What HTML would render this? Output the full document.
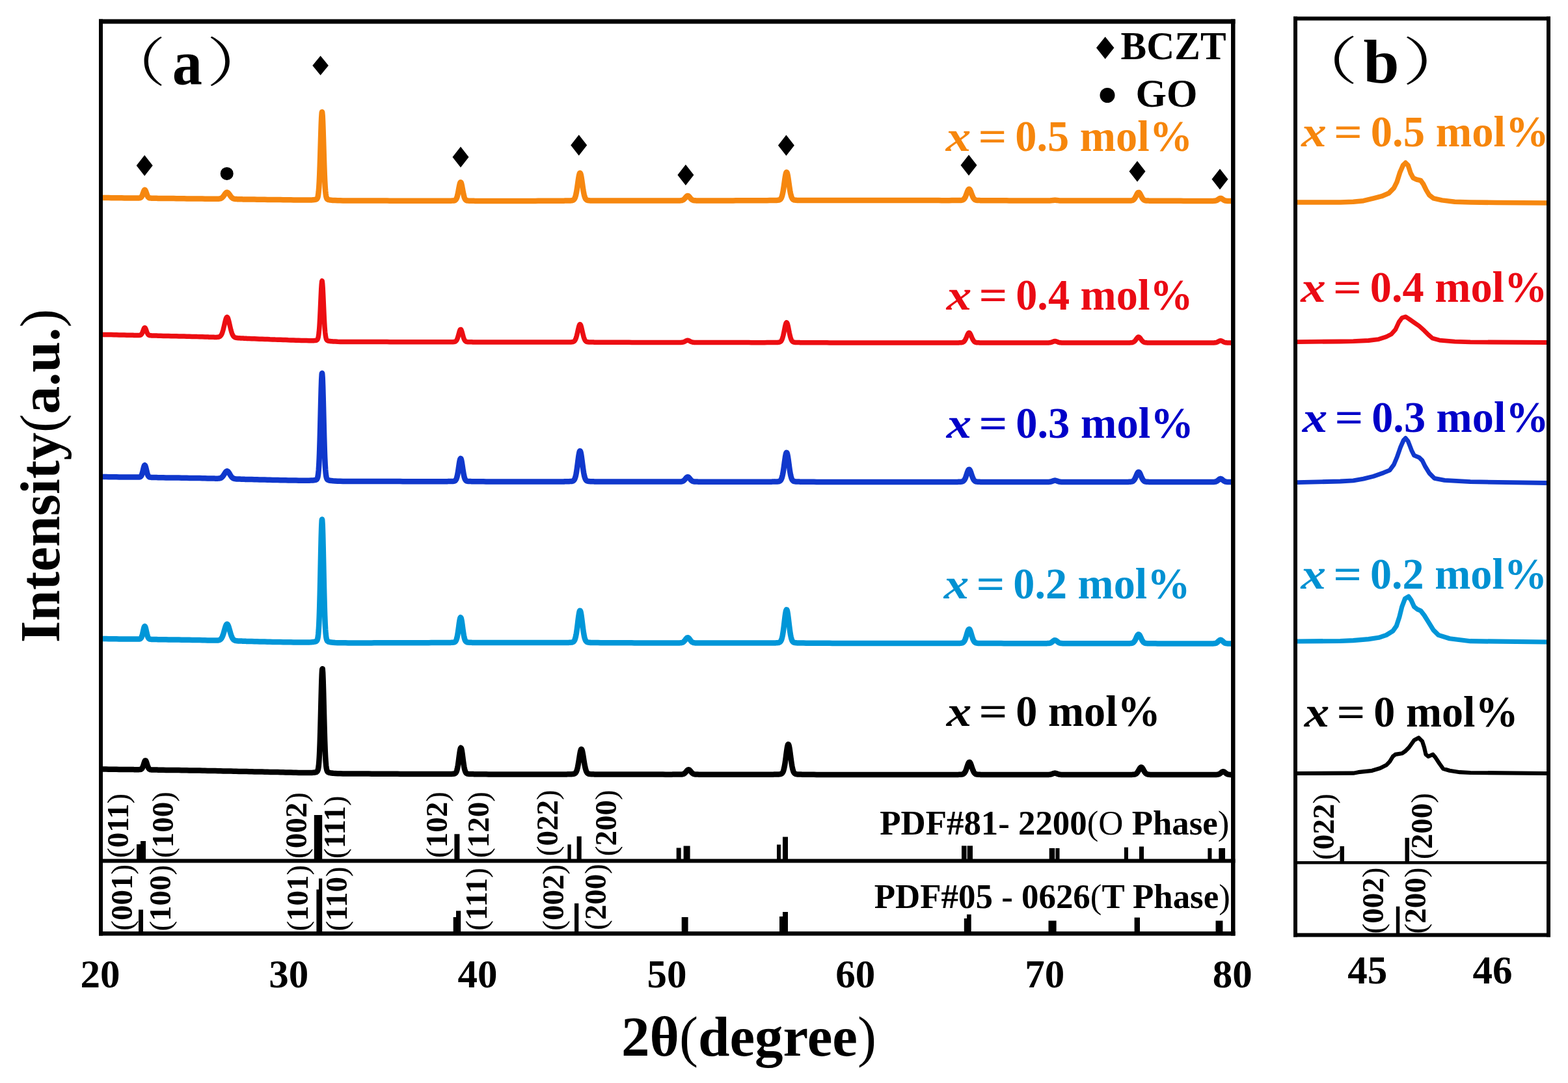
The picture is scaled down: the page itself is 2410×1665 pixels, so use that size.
<!DOCTYPE html>
<html><head><meta charset="utf-8"><title>XRD patterns</title>
<style>html,body{margin:0;padding:0;background:#fff;}svg{display:block;filter:blur(0.5px);}</style></head>
<body>
<svg width="2410" height="1665" viewBox="0 0 2410 1665">
<rect width="2410" height="1665" fill="#fff"/>
<path d="M155.0,304.0 159.0,304.0 163.0,304.1 167.0,304.1 171.0,304.2 175.0,304.2 179.0,304.2 183.0,304.3 187.0,304.3 191.0,304.4 195.0,304.4 199.0,304.4 203.0,304.5 204.5,304.5 205.0,304.5 205.5,304.5 206.0,304.5 206.5,304.5 207.0,304.5 207.5,304.5 208.0,304.5 208.5,304.5 209.0,304.5 209.5,304.5 210.0,304.5 210.5,304.5 211.0,304.5 211.5,304.5 212.0,304.5 212.5,304.5 213.0,304.4 213.5,304.4 214.0,304.4 214.5,304.3 215.0,304.3 215.5,304.1 216.0,303.9 216.5,303.6 217.0,303.2 217.5,302.6 218.0,301.8 218.5,300.8 219.0,299.6 219.5,298.3 220.0,296.8 220.5,295.4 221.0,294.0 221.5,292.9 222.0,292.2 222.5,291.9 223.0,292.2 223.5,292.9 224.0,294.1 224.5,295.4 225.0,296.9 225.5,298.4 226.0,299.7 226.5,300.9 227.0,301.9 227.5,302.7 228.0,303.3 228.5,303.7 229.0,304.1 229.5,304.3 230.0,304.4 230.5,304.5 231.0,304.6 231.5,304.6 232.0,304.6 232.5,304.7 233.0,304.7 233.5,304.7 234.0,304.7 234.5,304.7 235.0,304.7 235.5,304.8 236.0,304.8 236.5,304.8 237.0,304.8 237.5,304.8 238.0,304.8 238.5,304.8 239.0,304.8 239.5,304.8 240.0,304.8 240.5,304.8 243.0,304.9 247.0,304.9 251.0,305.0 255.0,305.0 259.0,305.1 263.0,305.1 267.0,305.1 271.0,305.2 275.0,305.2 279.0,305.3 283.0,305.3 287.0,305.4 291.0,305.4 295.0,305.4 299.0,305.5 303.0,305.5 307.0,305.6 311.0,305.6 315.0,305.7 319.0,305.7 319.5,305.7 320.0,305.7 320.5,305.7 321.0,305.7 321.5,305.7 322.0,305.7 322.5,305.7 323.0,305.7 323.5,305.7 324.0,305.7 324.5,305.8 325.0,305.8 325.5,305.8 326.0,305.8 326.5,305.8 327.0,305.8 327.5,305.8 328.0,305.8 328.5,305.8 329.0,305.8 329.5,305.8 330.0,305.8 330.5,305.8 331.0,305.8 331.5,305.8 332.0,305.8 332.5,305.8 333.0,305.8 333.5,305.8 334.0,305.8 334.5,305.8 335.0,305.8 335.5,305.7 336.0,305.7 336.5,305.7 337.0,305.6 337.5,305.5 338.0,305.4 338.5,305.3 339.0,305.2 339.5,305.0 340.0,304.7 340.5,304.4 341.0,304.1 341.5,303.7 342.0,303.3 342.5,302.7 343.0,302.2 343.5,301.5 344.0,300.9 344.5,300.2 345.0,299.4 345.5,298.7 346.0,298.0 346.5,297.4 347.0,296.8 347.5,296.4 348.0,296.0 348.5,295.8 349.0,295.7 349.5,295.8 350.0,296.1 350.5,296.4 351.0,296.9 351.5,297.5 352.0,298.1 352.5,298.8 353.0,299.5 353.5,300.3 354.0,301.0 354.5,301.7 355.0,302.3 355.5,302.9 356.0,303.4 356.5,303.9 357.0,304.3 357.5,304.7 358.0,305.0 358.5,305.2 359.0,305.4 359.5,305.6 360.0,305.7 360.5,305.8 361.0,305.9 361.5,306.0 362.0,306.0 362.5,306.1 363.0,306.1 363.5,306.1 364.0,306.1 364.5,306.2 365.0,306.2 365.5,306.2 366.0,306.2 366.5,306.2 367.0,306.2 367.5,306.2 368.0,306.3 368.5,306.3 369.0,306.3 369.5,306.3 370.0,306.3 370.5,306.3 371.0,306.3 371.5,306.3 372.0,306.3 372.5,306.3 373.0,306.4 373.5,306.4 374.0,306.4 374.5,306.4 375.0,306.4 375.5,306.4 376.0,306.4 376.5,306.4 377.0,306.4 377.5,306.4 378.0,306.4 378.5,306.4 379.0,306.4 383.0,306.5 387.0,306.6 391.0,306.6 395.0,306.7 399.0,306.7 403.0,306.8 407.0,306.8 411.0,306.9 415.0,306.9 419.0,307.0 423.0,307.0 427.0,307.1 431.0,307.1 435.0,307.2 439.0,307.2 443.0,307.3 447.0,307.3 451.0,307.4 455.0,307.4 459.0,307.5 463.0,307.5 467.0,307.5 471.0,307.5 475.0,307.5 478.2,307.4 478.7,307.4 479.0,307.4 479.2,307.4 479.7,307.4 480.2,307.3 480.7,307.3 481.2,307.3 481.7,307.2 482.2,307.2 482.7,307.1 483.0,307.1 483.2,307.1 483.7,307.0 484.2,306.9 484.7,306.8 485.2,306.7 485.7,306.6 486.2,306.4 486.7,306.1 487.0,305.8 487.2,305.6 487.7,304.8 488.2,303.7 488.7,301.8 489.2,298.8 489.7,294.5 490.2,288.3 490.7,279.9 491.0,273.6 491.2,269.0 491.7,255.6 492.2,240.1 492.7,223.4 493.2,206.8 493.7,191.7 494.2,180.0 494.7,173.4 495.0,172.2 495.2,172.8 495.7,178.3 496.2,189.1 496.7,203.6 497.2,220.1 497.7,236.9 498.2,252.7 498.7,266.6 499.0,273.8 499.2,278.0 499.7,287.0 500.2,293.6 500.7,298.3 501.2,301.5 501.7,303.5 502.2,304.9 502.7,305.7 503.0,306.0 503.2,306.2 503.7,306.6 504.2,306.8 504.7,307.0 505.2,307.1 505.7,307.2 506.2,307.3 506.7,307.4 507.0,307.5 507.2,307.5 507.7,307.6 508.2,307.6 508.7,307.7 509.2,307.7 509.7,307.8 510.2,307.8 510.7,307.9 511.0,307.9 511.2,307.9 511.7,307.9 515.0,308.1 519.0,308.3 523.0,308.3 527.0,308.4 531.0,308.4 535.0,308.4 539.0,308.5 543.0,308.5 547.0,308.5 551.0,308.5 555.0,308.5 559.0,308.5 563.0,308.6 567.0,308.6 571.0,308.6 575.0,308.6 579.0,308.6 583.0,308.6 587.0,308.6 591.0,308.6 595.0,308.6 599.0,308.7 603.0,308.7 607.0,308.7 611.0,308.7 615.0,308.7 619.0,308.7 623.0,308.7 627.0,308.7 631.0,308.7 635.0,308.7 639.0,308.7 643.0,308.7 647.0,308.8 651.0,308.8 655.0,308.8 659.0,308.8 663.0,308.8 667.0,308.8 671.0,308.8 675.0,308.8 679.0,308.8 683.0,308.8 686.4,308.8 686.9,308.8 687.0,308.8 687.4,308.8 687.9,308.8 688.4,308.7 688.9,308.7 689.4,308.7 689.9,308.7 690.4,308.7 690.9,308.7 691.0,308.7 691.4,308.7 691.9,308.7 692.4,308.7 692.9,308.7 693.4,308.7 693.9,308.7 694.4,308.6 694.9,308.6 695.0,308.6 695.4,308.6 695.9,308.6 696.4,308.6 696.9,308.5 697.4,308.5 697.9,308.4 698.4,308.3 698.9,308.1 699.0,308.1 699.4,307.9 699.9,307.6 700.4,307.1 700.9,306.5 701.4,305.6 701.9,304.6 702.4,303.2 702.9,301.5 703.0,301.1 703.4,299.5 703.9,297.1 704.4,294.6 704.9,291.8 705.4,289.1 705.9,286.4 706.4,284.0 706.9,282.1 707.0,281.8 707.4,280.8 707.9,280.3 708.4,280.5 708.9,281.5 709.4,283.2 709.9,285.4 710.4,288.0 710.9,290.7 711.0,291.3 711.4,293.5 711.9,296.1 712.4,298.6 712.9,300.7 713.4,302.6 713.9,304.1 714.4,305.3 714.9,306.2 715.0,306.4 715.4,306.9 715.9,307.4 716.4,307.8 716.9,308.1 717.4,308.3 717.9,308.4 718.4,308.5 718.9,308.5 719.0,308.6 719.4,308.6 719.9,308.6 720.4,308.7 720.9,308.7 721.4,308.7 721.9,308.7 722.4,308.7 722.9,308.7 723.0,308.7 723.4,308.8 723.9,308.8 724.4,308.8 724.9,308.8 725.4,308.8 725.9,308.8 726.4,308.8 726.9,308.8 727.0,308.8 727.4,308.8 727.9,308.8 728.4,308.8 728.9,308.8 729.4,308.9 731.0,308.9 735.0,308.9 739.0,308.9 743.0,308.9 747.0,309.0 751.0,309.0 755.0,309.0 759.0,309.0 763.0,309.0 767.0,309.0 771.0,308.9 775.0,308.9 779.0,308.9 783.0,308.9 787.0,308.9 791.0,308.9 795.0,308.9 799.0,308.9 803.0,308.9 807.0,308.9 811.0,308.9 815.0,308.9 819.0,308.9 823.0,308.9 827.0,308.8 831.0,308.8 835.0,308.8 839.0,308.8 843.0,308.8 847.0,308.8 851.0,308.8 855.0,308.8 859.0,308.7 863.0,308.7 866.3,308.7 866.8,308.7 867.0,308.7 867.3,308.7 867.8,308.6 868.3,308.6 868.8,308.6 869.3,308.6 869.8,308.6 870.3,308.6 870.8,308.6 871.0,308.6 871.3,308.6 871.8,308.6 872.3,308.6 872.8,308.5 873.3,308.5 873.8,308.5 874.3,308.5 874.8,308.5 875.0,308.5 875.3,308.5 875.8,308.4 876.3,308.4 876.8,308.4 877.3,308.4 877.8,308.3 878.3,308.3 878.8,308.2 879.0,308.2 879.3,308.1 879.8,308.0 880.3,307.9 880.8,307.7 881.3,307.4 881.8,307.0 882.3,306.5 882.8,305.9 883.0,305.6 883.3,305.0 883.8,303.9 884.3,302.6 884.8,300.9 885.3,298.8 885.8,296.5 886.3,293.7 886.8,290.7 887.0,289.4 887.3,287.4 887.8,283.9 888.3,280.3 888.8,276.8 889.3,273.6 889.8,270.7 890.3,268.4 890.8,266.8 891.0,266.4 891.3,266.0 891.8,266.1 892.3,267.1 892.8,268.8 893.3,271.2 893.8,274.2 894.3,277.5 894.8,281.0 895.0,282.4 895.3,284.6 895.8,288.0 896.3,291.3 896.8,294.3 897.3,296.9 897.8,299.2 898.3,301.2 898.8,302.8 899.0,303.4 899.3,304.1 899.8,305.2 900.3,306.0 900.8,306.6 901.3,307.1 901.8,307.4 902.3,307.7 902.8,307.9 903.0,307.9 903.3,308.0 903.8,308.1 904.3,308.2 904.8,308.2 905.3,308.3 905.8,308.3 906.3,308.3 906.8,308.4 907.0,308.4 907.3,308.4 907.8,308.4 908.3,308.4 908.8,308.4 909.3,308.5 909.8,308.5 910.3,308.5 910.8,308.5 911.0,308.5 911.3,308.5 911.8,308.5 912.3,308.5 912.8,308.5 913.3,308.5 913.8,308.5 914.3,308.6 914.8,308.6 915.0,308.6 915.3,308.6 915.8,308.6 916.3,308.6 919.0,308.6 923.0,308.6 927.0,308.6 931.0,308.6 935.0,308.6 939.0,308.6 943.0,308.6 947.0,308.6 951.0,308.6 955.0,308.6 959.0,308.6 963.0,308.6 967.0,308.6 971.0,308.6 975.0,308.6 979.0,308.6 983.0,308.6 987.0,308.6 991.0,308.6 995.0,308.6 999.0,308.6 1003.0,308.6 1007.0,308.6 1011.0,308.5 1015.0,308.5 1019.0,308.5 1023.0,308.5 1027.0,308.5 1031.0,308.5 1031.8,308.5 1032.3,308.5 1032.8,308.5 1033.3,308.5 1033.8,308.5 1034.3,308.5 1034.8,308.5 1035.0,308.5 1035.3,308.5 1035.8,308.5 1036.3,308.5 1036.8,308.5 1037.3,308.5 1037.8,308.5 1038.3,308.5 1038.8,308.5 1039.0,308.5 1039.3,308.5 1039.8,308.5 1040.3,308.5 1040.8,308.5 1041.3,308.4 1041.8,308.4 1042.3,308.4 1042.8,308.4 1043.0,308.4 1043.3,308.4 1043.8,308.4 1044.3,308.4 1044.8,308.4 1045.3,308.4 1045.8,308.3 1046.3,308.3 1046.8,308.3 1047.0,308.2 1047.3,308.2 1047.8,308.1 1048.3,308.0 1048.8,307.8 1049.3,307.7 1049.8,307.4 1050.3,307.1 1050.8,306.8 1051.0,306.6 1051.3,306.3 1051.8,305.9 1052.3,305.3 1052.8,304.8 1053.3,304.2 1053.8,303.5 1054.3,302.9 1054.8,302.4 1055.0,302.2 1055.3,301.9 1055.8,301.5 1056.3,301.2 1056.8,301.1 1057.3,301.1 1057.8,301.2 1058.3,301.5 1058.8,302.0 1059.0,302.2 1059.3,302.5 1059.8,303.0 1060.3,303.7 1060.8,304.3 1061.3,304.9 1061.8,305.4 1062.3,306.0 1062.8,306.4 1063.0,306.6 1063.3,306.8 1063.8,307.2 1064.3,307.4 1064.8,307.7 1065.3,307.8 1065.8,308.0 1066.3,308.1 1066.8,308.2 1067.0,308.2 1067.3,308.2 1067.8,308.3 1068.3,308.3 1068.8,308.3 1069.3,308.3 1069.8,308.4 1070.3,308.4 1070.8,308.4 1071.0,308.4 1071.3,308.4 1071.8,308.4 1072.3,308.4 1072.8,308.4 1073.3,308.4 1073.8,308.4 1074.3,308.4 1074.8,308.4 1075.0,308.4 1075.3,308.4 1075.8,308.4 1076.3,308.4 1076.8,308.4 1077.3,308.4 1077.8,308.4 1078.3,308.4 1078.8,308.4 1079.0,308.4 1079.3,308.4 1079.8,308.4 1080.3,308.4 1080.8,308.4 1081.3,308.4 1081.8,308.4 1083.0,308.4 1087.0,308.4 1091.0,308.4 1095.0,308.4 1099.0,308.4 1103.0,308.4 1107.0,308.4 1111.0,308.4 1115.0,308.4 1119.0,308.4 1123.0,308.4 1127.0,308.4 1131.0,308.3 1135.0,308.3 1139.0,308.3 1143.0,308.3 1147.0,308.3 1151.0,308.3 1155.0,308.3 1159.0,308.3 1163.0,308.3 1167.0,308.2 1171.0,308.2 1175.0,308.2 1179.0,308.2 1183.0,308.1 1183.8,308.1 1184.3,308.1 1184.8,308.1 1185.3,308.1 1185.8,308.1 1186.3,308.1 1186.8,308.1 1187.0,308.1 1187.3,308.1 1187.8,308.1 1188.3,308.1 1188.8,308.0 1189.3,308.0 1189.8,308.0 1190.3,308.0 1190.8,308.0 1191.0,308.0 1191.3,308.0 1191.8,308.0 1192.3,307.9 1192.8,307.9 1193.3,307.9 1193.8,307.9 1194.3,307.9 1194.8,307.8 1195.0,307.8 1195.3,307.8 1195.8,307.7 1196.3,307.7 1196.8,307.6 1197.3,307.5 1197.8,307.3 1198.3,307.1 1198.8,306.8 1199.0,306.7 1199.3,306.5 1199.8,306.0 1200.3,305.3 1200.8,304.4 1201.3,303.3 1201.8,301.9 1202.3,300.2 1202.8,298.1 1203.0,297.2 1203.3,295.7 1203.8,292.9 1204.3,289.8 1204.8,286.4 1205.3,282.9 1205.8,279.3 1206.3,275.7 1206.8,272.4 1207.0,271.2 1207.3,269.5 1207.8,267.2 1208.3,265.5 1208.8,264.7 1209.3,264.8 1209.8,265.8 1210.3,267.6 1210.8,270.0 1211.0,271.2 1211.3,273.0 1211.8,276.4 1212.3,280.0 1212.8,283.6 1213.3,287.1 1213.8,290.4 1214.3,293.5 1214.8,296.2 1215.0,297.2 1215.3,298.5 1215.8,300.5 1216.3,302.2 1216.8,303.5 1217.3,304.6 1217.8,305.4 1218.3,306.0 1218.8,306.5 1219.0,306.7 1219.3,306.9 1219.8,307.1 1220.3,307.3 1220.8,307.5 1221.3,307.6 1221.8,307.6 1222.3,307.7 1222.8,307.7 1223.0,307.8 1223.3,307.8 1223.8,307.8 1224.3,307.8 1224.8,307.9 1225.3,307.9 1225.8,307.9 1226.3,307.9 1226.8,307.9 1227.0,307.9 1227.3,307.9 1227.8,308.0 1228.3,308.0 1228.8,308.0 1229.3,308.0 1229.8,308.0 1230.3,308.0 1230.8,308.0 1231.0,308.0 1231.3,308.0 1231.8,308.0 1232.3,308.0 1232.8,308.0 1233.3,308.0 1233.8,308.0 1235.0,308.1 1239.0,308.1 1243.0,308.1 1247.0,308.1 1251.0,308.1 1255.0,308.1 1259.0,308.1 1263.0,308.1 1267.0,308.1 1271.0,308.1 1275.0,308.1 1279.0,308.1 1283.0,308.1 1287.0,308.1 1291.0,308.1 1295.0,308.1 1299.0,308.1 1303.0,308.1 1307.0,308.1 1311.0,308.1 1315.0,308.0 1319.0,308.0 1323.0,308.0 1327.0,308.0 1331.0,308.0 1335.0,308.0 1339.0,308.0 1343.0,308.0 1347.0,308.0 1351.0,308.0 1355.0,308.0 1359.0,308.0 1363.0,308.0 1367.0,308.0 1371.0,308.0 1375.0,308.0 1379.0,308.0 1383.0,308.1 1387.0,308.1 1391.0,308.1 1395.0,308.1 1399.0,308.1 1403.0,308.1 1407.0,308.1 1411.0,308.1 1415.0,308.1 1419.0,308.1 1423.0,308.1 1427.0,308.1 1431.0,308.1 1435.0,308.1 1439.0,308.1 1443.0,308.1 1447.0,308.2 1451.0,308.2 1455.0,308.2 1459.0,308.2 1463.0,308.1 1463.1,308.1 1463.6,308.1 1464.1,308.1 1464.6,308.1 1465.1,308.1 1465.6,308.1 1466.1,308.1 1466.6,308.1 1467.0,308.1 1467.1,308.1 1467.6,308.1 1468.1,308.1 1468.6,308.1 1469.1,308.1 1469.6,308.1 1470.1,308.1 1470.6,308.1 1471.0,308.1 1471.1,308.1 1471.6,308.1 1472.1,308.1 1472.6,308.1 1473.1,308.1 1473.6,308.1 1474.1,308.1 1474.6,308.1 1475.0,308.0 1475.1,308.0 1475.6,308.0 1476.1,308.0 1476.6,308.0 1477.1,307.9 1477.6,307.9 1478.1,307.8 1478.6,307.7 1479.0,307.6 1479.1,307.6 1479.6,307.4 1480.1,307.2 1480.6,306.9 1481.1,306.5 1481.6,306.1 1482.1,305.5 1482.6,304.8 1483.0,304.2 1483.1,304.0 1483.6,303.0 1484.1,301.9 1484.6,300.7 1485.1,299.4 1485.6,298.1 1486.1,296.7 1486.6,295.3 1487.0,294.3 1487.1,294.0 1487.6,292.9 1488.1,291.9 1488.6,291.2 1489.1,290.8 1489.6,290.7 1490.1,290.9 1490.6,291.4 1491.0,292.1 1491.1,292.3 1491.6,293.3 1492.1,294.5 1492.6,295.9 1493.1,297.3 1493.6,298.6 1494.1,300.0 1494.6,301.3 1495.0,302.2 1495.1,302.4 1495.6,303.5 1496.1,304.4 1496.6,305.1 1497.1,305.8 1497.6,306.3 1498.1,306.7 1498.6,307.1 1499.0,307.3 1499.1,307.3 1499.6,307.5 1500.1,307.7 1500.6,307.8 1501.1,307.9 1501.6,307.9 1502.1,308.0 1502.6,308.0 1503.0,308.1 1503.1,308.1 1503.6,308.1 1504.1,308.1 1504.6,308.1 1505.1,308.1 1505.6,308.1 1506.1,308.1 1506.6,308.2 1507.0,308.2 1507.1,308.2 1507.6,308.2 1508.1,308.2 1508.6,308.2 1509.1,308.2 1509.6,308.2 1510.1,308.2 1510.6,308.2 1511.0,308.2 1511.1,308.2 1511.6,308.2 1512.1,308.2 1512.6,308.2 1513.1,308.2 1513.6,308.2 1514.1,308.2 1514.6,308.2 1515.0,308.2 1515.1,308.2 1515.6,308.2 1519.0,308.3 1523.0,308.3 1527.0,308.3 1531.0,308.3 1535.0,308.3 1539.0,308.3 1543.0,308.3 1547.0,308.3 1551.0,308.4 1555.0,308.4 1559.0,308.4 1563.0,308.4 1567.0,308.4 1571.0,308.4 1575.0,308.4 1579.0,308.4 1583.0,308.4 1587.0,308.4 1591.0,308.4 1595.0,308.4 1596.3,308.4 1596.8,308.4 1597.3,308.4 1597.8,308.4 1598.3,308.4 1598.8,308.4 1599.0,308.4 1599.3,308.4 1599.8,308.4 1600.3,308.5 1600.8,308.5 1601.3,308.5 1601.8,308.5 1602.3,308.5 1602.8,308.5 1603.0,308.5 1603.3,308.5 1603.8,308.5 1604.3,308.5 1604.8,308.5 1605.3,308.5 1605.8,308.5 1606.3,308.5 1606.8,308.5 1607.0,308.5 1607.3,308.5 1607.8,308.5 1608.3,308.5 1608.8,308.5 1609.3,308.5 1609.8,308.5 1610.3,308.5 1610.8,308.5 1611.0,308.5 1611.3,308.4 1611.8,308.4 1612.3,308.4 1612.8,308.4 1613.3,308.4 1613.8,308.4 1614.3,308.4 1614.8,308.3 1615.0,308.3 1615.3,308.3 1615.8,308.3 1616.3,308.2 1616.8,308.2 1617.3,308.1 1617.8,308.1 1618.3,308.0 1618.8,307.9 1619.0,307.9 1619.3,307.9 1619.8,307.8 1620.3,307.8 1620.8,307.8 1621.3,307.7 1621.8,307.7 1622.3,307.8 1622.8,307.8 1623.0,307.8 1623.3,307.8 1623.8,307.9 1624.3,308.0 1624.8,308.0 1625.3,308.1 1625.8,308.1 1626.3,308.2 1626.8,308.2 1627.0,308.3 1627.3,308.3 1627.8,308.3 1628.3,308.4 1628.8,308.4 1629.3,308.4 1629.8,308.4 1630.3,308.5 1630.8,308.5 1631.0,308.5 1631.3,308.5 1631.8,308.5 1632.3,308.5 1632.8,308.5 1633.3,308.5 1633.8,308.5 1634.3,308.5 1634.8,308.5 1635.0,308.5 1635.3,308.5 1635.8,308.5 1636.3,308.5 1636.8,308.5 1637.3,308.5 1637.8,308.5 1638.3,308.5 1638.8,308.5 1639.0,308.5 1639.3,308.5 1639.8,308.5 1640.3,308.5 1640.8,308.5 1641.3,308.5 1641.8,308.5 1642.3,308.5 1642.8,308.5 1643.0,308.5 1643.3,308.5 1643.8,308.5 1644.3,308.5 1644.8,308.5 1645.3,308.5 1645.8,308.5 1646.3,308.5 1647.0,308.5 1651.0,308.5 1655.0,308.6 1659.0,308.6 1663.0,308.6 1667.0,308.6 1671.0,308.6 1675.0,308.6 1679.0,308.6 1683.0,308.6 1687.0,308.6 1691.0,308.6 1695.0,308.6 1699.0,308.6 1703.0,308.6 1707.0,308.6 1711.0,308.6 1715.0,308.6 1719.0,308.6 1723.0,308.6 1723.6,308.6 1724.1,308.6 1724.6,308.6 1725.1,308.6 1725.6,308.6 1726.1,308.6 1726.6,308.6 1727.0,308.6 1727.1,308.6 1727.6,308.6 1728.1,308.6 1728.6,308.6 1729.1,308.6 1729.6,308.6 1730.1,308.6 1730.6,308.6 1731.0,308.6 1731.1,308.6 1731.6,308.6 1732.1,308.6 1732.6,308.6 1733.1,308.6 1733.6,308.6 1734.1,308.6 1734.6,308.6 1735.0,308.6 1735.1,308.6 1735.6,308.6 1736.1,308.6 1736.6,308.5 1737.1,308.5 1737.6,308.5 1738.1,308.5 1738.6,308.4 1739.0,308.3 1739.1,308.3 1739.6,308.2 1740.1,308.1 1740.6,308.0 1741.1,307.7 1741.6,307.5 1742.1,307.1 1742.6,306.7 1743.0,306.3 1743.1,306.2 1743.6,305.6 1744.1,304.9 1744.6,304.1 1745.1,303.2 1745.6,302.3 1746.1,301.3 1746.6,300.3 1747.0,299.5 1747.1,299.3 1747.6,298.3 1748.1,297.5 1748.6,296.8 1749.1,296.2 1749.6,295.9 1750.1,295.9 1750.6,296.0 1751.0,296.3 1751.1,296.4 1751.6,297.0 1752.1,297.8 1752.6,298.7 1753.1,299.7 1753.6,300.7 1754.1,301.7 1754.6,302.7 1755.0,303.4 1755.1,303.6 1755.6,304.5 1756.1,305.2 1756.6,305.9 1757.1,306.5 1757.6,306.9 1758.1,307.3 1758.6,307.6 1759.0,307.8 1759.1,307.9 1759.6,308.1 1760.1,308.2 1760.6,308.3 1761.1,308.4 1761.6,308.5 1762.1,308.5 1762.6,308.5 1763.0,308.6 1763.1,308.6 1763.6,308.6 1764.1,308.6 1764.6,308.6 1765.1,308.6 1765.6,308.6 1766.1,308.7 1766.6,308.7 1767.0,308.7 1767.1,308.7 1767.6,308.7 1768.1,308.7 1768.6,308.7 1769.1,308.7 1769.6,308.7 1770.1,308.7 1770.6,308.7 1771.0,308.7 1771.1,308.7 1771.6,308.7 1772.1,308.7 1772.6,308.7 1773.1,308.7 1773.6,308.7 1774.1,308.7 1774.6,308.7 1775.0,308.7 1775.1,308.7 1775.6,308.7 1776.1,308.7 1779.0,308.8 1783.0,308.8 1787.0,308.8 1791.0,308.8 1795.0,308.8 1799.0,308.8 1803.0,308.8 1807.0,308.8 1811.0,308.8 1815.0,308.8 1819.0,308.9 1823.0,308.9 1827.0,308.9 1831.0,308.9 1835.0,308.9 1839.0,308.9 1843.0,308.9 1847.0,308.9 1851.0,308.9 1852.0,308.9 1852.5,308.9 1853.0,308.9 1853.5,308.9 1854.0,308.9 1854.5,308.9 1855.0,308.9 1855.5,308.9 1856.0,308.9 1856.5,308.9 1857.0,308.9 1857.5,308.9 1858.0,308.9 1858.5,308.9 1859.0,308.9 1859.5,308.9 1860.0,308.9 1860.5,308.9 1861.0,308.9 1861.5,308.9 1862.0,308.9 1862.5,308.9 1863.0,308.9 1863.5,308.9 1864.0,308.9 1864.5,308.9 1865.0,308.9 1865.5,308.8 1866.0,308.8 1866.5,308.8 1867.0,308.8 1867.5,308.7 1868.0,308.6 1868.5,308.5 1869.0,308.4 1869.5,308.2 1870.0,308.0 1870.5,307.8 1871.0,307.5 1871.5,307.2 1872.0,306.9 1872.5,306.5 1873.0,306.2 1873.5,305.8 1874.0,305.5 1874.5,305.2 1875.0,305.0 1875.5,304.9 1876.0,304.8 1876.5,304.9 1877.0,305.0 1877.5,305.2 1878.0,305.5 1878.5,305.8 1879.0,306.2 1879.5,306.6 1880.0,306.9 1880.5,307.2 1881.0,307.6 1881.5,307.8 1882.0,308.1 1882.5,308.3 1883.0,308.4 1883.5,308.6 1884.0,308.7 1884.5,308.7 1885.0,308.8 1885.5,308.8 1886.0,308.9 1886.5,308.9 1887.0,308.9 1887.5,308.9 1888.0,308.9 1888.5,308.9 1889.0,308.9 1889.5,308.9 1890.0,309.0 1890.5,309.0 1891.0,309.0 1891.5,309.0 1892.0,309.0 1892.5,309.0 1893.0,309.0 1893.5,309.0 1894.0,309.0 1894.5,309.0 1895.0,309.0" fill="none" stroke="#F6870F" stroke-width="8.5" stroke-linejoin="round" stroke-linecap="butt"/>
<path d="M155.0,514.3 159.0,514.4 163.0,514.5 167.0,514.6 171.0,514.6 175.0,514.7 179.0,514.8 183.0,514.9 187.0,515.0 191.0,515.1 195.0,515.2 199.0,515.2 203.0,515.3 204.5,515.3 205.0,515.4 205.5,515.4 206.0,515.4 206.5,515.4 207.0,515.4 207.5,515.4 208.0,515.4 208.5,515.4 209.0,515.4 209.5,515.4 210.0,515.4 210.5,515.4 211.0,515.4 211.5,515.4 212.0,515.4 212.5,515.4 213.0,515.4 213.5,515.4 214.0,515.4 214.5,515.4 215.0,515.3 215.5,515.2 216.0,515.0 216.5,514.7 217.0,514.3 217.5,513.7 218.0,513.0 218.5,512.1 219.0,511.0 219.5,509.7 220.0,508.3 220.5,507.0 221.0,505.7 221.5,504.7 222.0,504.0 222.5,503.7 223.0,504.0 223.5,504.7 224.0,505.8 224.5,507.0 225.0,508.4 225.5,509.8 226.0,511.1 226.5,512.3 227.0,513.2 227.5,514.0 228.0,514.5 228.5,515.0 229.0,515.3 229.5,515.5 230.0,515.6 230.5,515.7 231.0,515.8 231.5,515.8 232.0,515.8 232.5,515.9 233.0,515.9 233.5,515.9 234.0,515.9 234.5,516.0 235.0,516.0 235.5,516.0 236.0,516.0 236.5,516.0 237.0,516.0 237.5,516.1 238.0,516.1 238.5,516.1 239.0,516.1 239.5,516.1 240.0,516.1 240.5,516.1 243.0,516.2 247.0,516.3 251.0,516.4 255.0,516.5 259.0,516.6 263.0,516.7 267.0,516.7 271.0,516.8 275.0,516.9 279.0,517.0 283.0,517.1 287.0,517.2 291.0,517.3 295.0,517.4 299.0,517.4 303.0,517.6 307.0,517.7 311.0,517.8 315.0,518.0 319.0,518.1 319.5,518.1 320.0,518.1 320.5,518.1 321.0,518.2 321.5,518.2 322.0,518.2 322.5,518.2 323.0,518.2 323.5,518.2 324.0,518.2 324.5,518.3 325.0,518.3 325.5,518.3 326.0,518.3 326.5,518.3 327.0,518.3 327.5,518.3 328.0,518.3 328.5,518.3 329.0,518.4 329.5,518.4 330.0,518.4 330.5,518.4 331.0,518.4 331.5,518.4 332.0,518.4 332.5,518.4 333.0,518.4 333.5,518.4 334.0,518.3 334.5,518.3 335.0,518.3 335.5,518.2 336.0,518.1 336.5,518.0 337.0,517.8 337.5,517.6 338.0,517.3 338.5,516.9 339.0,516.4 339.5,515.8 340.0,515.1 340.5,514.2 341.0,513.2 341.5,512.0 342.0,510.5 342.5,508.9 343.0,507.2 343.5,505.2 344.0,503.2 344.5,501.0 345.0,498.8 345.5,496.6 346.0,494.5 346.5,492.5 347.0,490.8 347.5,489.3 348.0,488.2 348.5,487.6 349.0,487.3 349.5,487.6 350.0,488.3 350.5,489.4 351.0,490.9 351.5,492.7 352.0,494.7 352.5,496.8 353.0,499.1 353.5,501.3 354.0,503.5 354.5,505.6 355.0,507.6 355.5,509.4 356.0,511.1 356.5,512.5 357.0,513.8 357.5,514.9 358.0,515.8 358.5,516.5 359.0,517.2 359.5,517.7 360.0,518.1 360.5,518.4 361.0,518.7 361.5,518.9 362.0,519.1 362.5,519.2 363.0,519.3 363.5,519.4 364.0,519.5 364.5,519.5 365.0,519.6 365.5,519.6 366.0,519.7 366.5,519.7 367.0,519.7 367.5,519.8 368.0,519.8 368.5,519.8 369.0,519.9 369.5,519.9 370.0,519.9 370.5,519.9 371.0,520.0 371.5,520.0 372.0,520.0 372.5,520.0 373.0,520.1 373.5,520.1 374.0,520.1 374.5,520.1 375.0,520.2 375.5,520.2 376.0,520.2 376.5,520.2 377.0,520.3 377.5,520.3 378.0,520.3 378.5,520.3 379.0,520.4 383.0,520.5 387.0,520.7 391.0,520.8 395.0,521.0 399.0,521.2 403.0,521.3 407.0,521.5 411.0,521.6 415.0,521.8 419.0,521.9 423.0,522.1 427.0,522.2 431.0,522.3 435.0,522.5 439.0,522.6 443.0,522.8 447.0,522.9 451.0,523.0 455.0,523.2 459.0,523.3 463.0,523.4 467.0,523.5 471.0,523.6 475.0,523.7 478.2,523.7 478.7,523.7 479.0,523.7 479.2,523.7 479.7,523.7 480.2,523.7 480.7,523.7 481.2,523.7 481.7,523.7 482.2,523.7 482.7,523.6 483.0,523.6 483.2,523.6 483.7,523.6 484.2,523.5 484.7,523.5 485.2,523.4 485.7,523.3 486.2,523.2 486.7,523.0 487.0,522.8 487.2,522.7 487.7,522.2 488.2,521.4 488.7,520.1 489.2,518.1 489.7,515.2 490.2,511.0 490.7,505.2 491.0,501.0 491.2,497.8 491.7,488.6 492.2,478.1 492.7,466.7 493.2,455.3 493.7,445.0 494.2,437.1 494.7,432.5 495.0,431.7 495.2,432.1 495.7,435.9 496.2,443.3 496.7,453.2 497.2,464.5 497.7,476.0 498.2,486.8 498.7,496.3 499.0,501.2 499.2,504.2 499.7,510.3 500.2,514.8 500.7,518.0 501.2,520.2 501.7,521.7 502.2,522.6 502.7,523.2 503.0,523.4 503.2,523.5 503.7,523.8 504.2,524.0 504.7,524.1 505.2,524.2 505.7,524.3 506.2,524.4 506.7,524.4 507.0,524.5 507.2,524.5 507.7,524.5 508.2,524.6 508.7,524.7 509.2,524.7 509.7,524.7 510.2,524.8 510.7,524.8 511.0,524.8 511.2,524.9 511.7,524.9 515.0,525.1 519.0,525.3 523.0,525.4 527.0,525.4 531.0,525.5 535.0,525.5 539.0,525.5 543.0,525.5 547.0,525.5 551.0,525.5 555.0,525.5 559.0,525.6 563.0,525.6 567.0,525.6 571.0,525.6 575.0,525.6 579.0,525.6 583.0,525.6 587.0,525.6 591.0,525.6 595.0,525.6 599.0,525.7 603.0,525.7 607.0,525.7 611.0,525.7 615.0,525.7 619.0,525.7 623.0,525.7 627.0,525.7 631.0,525.7 635.0,525.7 639.0,525.7 643.0,525.8 647.0,525.8 651.0,525.8 655.0,525.8 659.0,525.8 663.0,525.8 667.0,525.8 671.0,525.8 675.0,525.8 679.0,525.8 683.0,525.8 686.4,525.8 686.9,525.8 687.0,525.8 687.4,525.8 687.9,525.8 688.4,525.8 688.9,525.8 689.4,525.8 689.9,525.8 690.4,525.8 690.9,525.8 691.0,525.8 691.4,525.8 691.9,525.8 692.4,525.8 692.9,525.7 693.4,525.7 693.9,525.7 694.4,525.7 694.9,525.7 695.0,525.7 695.4,525.7 695.9,525.7 696.4,525.7 696.9,525.6 697.4,525.6 697.9,525.5 698.4,525.5 698.9,525.4 699.0,525.3 699.4,525.2 699.9,525.0 700.4,524.7 700.9,524.2 701.4,523.7 701.9,522.9 702.4,522.0 702.9,520.8 703.0,520.6 703.4,519.5 703.9,517.9 704.4,516.1 704.9,514.3 705.4,512.4 705.9,510.6 706.4,508.9 706.9,507.6 707.0,507.4 707.4,506.7 707.9,506.4 708.4,506.5 708.9,507.2 709.4,508.4 709.9,509.9 710.4,511.6 710.9,513.5 711.0,513.9 711.4,515.4 711.9,517.2 712.4,518.9 712.9,520.3 713.4,521.6 713.9,522.6 714.4,523.4 714.9,524.1 715.0,524.2 715.4,524.6 715.9,524.9 716.4,525.2 716.9,525.3 717.4,525.5 717.9,525.6 718.4,525.6 718.9,525.7 719.0,525.7 719.4,525.7 719.9,525.7 720.4,525.7 720.9,525.8 721.4,525.8 721.9,525.8 722.4,525.8 722.9,525.8 723.0,525.8 723.4,525.8 723.9,525.8 724.4,525.8 724.9,525.8 725.4,525.8 725.9,525.9 726.4,525.9 726.9,525.9 727.0,525.9 727.4,525.9 727.9,525.9 728.4,525.9 728.9,525.9 729.4,525.9 731.0,525.9 735.0,525.9 739.0,525.9 743.0,526.0 747.0,526.0 751.0,526.0 755.0,526.0 759.0,526.0 763.0,526.0 767.0,526.0 771.0,526.0 775.0,526.0 779.0,526.0 783.0,526.0 787.0,526.0 791.0,526.1 795.0,526.1 799.0,526.1 803.0,526.1 807.0,526.1 811.0,526.1 815.0,526.1 819.0,526.1 823.0,526.1 827.0,526.1 831.0,526.1 835.0,526.1 839.0,526.1 843.0,526.1 847.0,526.1 851.0,526.1 855.0,526.1 859.0,526.1 863.0,526.1 866.3,526.1 866.8,526.1 867.0,526.1 867.3,526.1 867.8,526.1 868.3,526.1 868.8,526.1 869.3,526.1 869.8,526.1 870.3,526.1 870.8,526.1 871.0,526.1 871.3,526.1 871.8,526.1 872.3,526.0 872.8,526.0 873.3,526.0 873.8,526.0 874.3,526.0 874.8,526.0 875.0,526.0 875.3,526.0 875.8,526.0 876.3,526.0 876.8,526.0 877.3,525.9 877.8,525.9 878.3,525.9 878.8,525.8 879.0,525.8 879.3,525.8 879.8,525.7 880.3,525.6 880.8,525.5 881.3,525.3 881.8,525.1 882.3,524.8 882.8,524.3 883.0,524.1 883.3,523.8 883.8,523.1 884.3,522.2 884.8,521.1 885.3,519.8 885.8,518.3 886.3,516.5 886.8,514.5 887.0,513.7 887.3,512.4 887.8,510.1 888.3,507.8 888.8,505.6 889.3,503.5 889.8,501.6 890.3,500.1 890.8,499.1 891.0,498.8 891.3,498.6 891.8,498.7 892.3,499.3 892.8,500.4 893.3,502.0 893.8,503.9 894.3,506.0 894.8,508.3 895.0,509.2 895.3,510.6 895.8,512.8 896.3,514.9 896.8,516.9 897.3,518.6 897.8,520.1 898.3,521.4 898.8,522.4 899.0,522.8 899.3,523.3 899.8,523.9 900.3,524.5 900.8,524.9 901.3,525.2 901.8,525.4 902.3,525.6 902.8,525.7 903.0,525.7 903.3,525.8 903.8,525.8 904.3,525.9 904.8,525.9 905.3,526.0 905.8,526.0 906.3,526.0 906.8,526.0 907.0,526.0 907.3,526.0 907.8,526.1 908.3,526.1 908.8,526.1 909.3,526.1 909.8,526.1 910.3,526.1 910.8,526.1 911.0,526.1 911.3,526.1 911.8,526.1 912.3,526.1 912.8,526.1 913.3,526.2 913.8,526.2 914.3,526.2 914.8,526.2 915.0,526.2 915.3,526.2 915.8,526.2 916.3,526.2 919.0,526.2 923.0,526.2 927.0,526.2 931.0,526.3 935.0,526.3 939.0,526.3 943.0,526.3 947.0,526.3 951.0,526.3 955.0,526.3 959.0,526.3 963.0,526.3 967.0,526.3 971.0,526.4 975.0,526.4 979.0,526.4 983.0,526.4 987.0,526.4 991.0,526.4 995.0,526.4 999.0,526.4 1003.0,526.4 1007.0,526.4 1011.0,526.4 1015.0,526.4 1019.0,526.4 1023.0,526.4 1027.0,526.4 1031.0,526.5 1031.8,526.5 1032.3,526.5 1032.8,526.5 1033.3,526.5 1033.8,526.5 1034.3,526.5 1034.8,526.5 1035.0,526.5 1035.3,526.5 1035.8,526.5 1036.3,526.5 1036.8,526.5 1037.3,526.5 1037.8,526.5 1038.3,526.5 1038.8,526.5 1039.0,526.5 1039.3,526.5 1039.8,526.5 1040.3,526.5 1040.8,526.5 1041.3,526.5 1041.8,526.5 1042.3,526.5 1042.8,526.4 1043.0,526.4 1043.3,526.4 1043.8,526.4 1044.3,526.4 1044.8,526.4 1045.3,526.4 1045.8,526.4 1046.3,526.4 1046.8,526.4 1047.0,526.4 1047.3,526.4 1047.8,526.3 1048.3,526.3 1048.8,526.2 1049.3,526.1 1049.8,526.0 1050.3,525.9 1050.8,525.7 1051.0,525.7 1051.3,525.6 1051.8,525.4 1052.3,525.1 1052.8,524.9 1053.3,524.6 1053.8,524.3 1054.3,524.1 1054.8,523.8 1055.0,523.7 1055.3,523.6 1055.8,523.4 1056.3,523.3 1056.8,523.2 1057.3,523.3 1057.8,523.3 1058.3,523.5 1058.8,523.7 1059.0,523.7 1059.3,523.9 1059.8,524.1 1060.3,524.4 1060.8,524.7 1061.3,524.9 1061.8,525.2 1062.3,525.4 1062.8,525.6 1063.0,525.7 1063.3,525.8 1063.8,525.9 1064.3,526.1 1064.8,526.2 1065.3,526.2 1065.8,526.3 1066.3,526.4 1066.8,526.4 1067.0,526.4 1067.3,526.4 1067.8,526.4 1068.3,526.5 1068.8,526.5 1069.3,526.5 1069.8,526.5 1070.3,526.5 1070.8,526.5 1071.0,526.5 1071.3,526.5 1071.8,526.5 1072.3,526.5 1072.8,526.5 1073.3,526.5 1073.8,526.5 1074.3,526.5 1074.8,526.5 1075.0,526.5 1075.3,526.5 1075.8,526.5 1076.3,526.5 1076.8,526.5 1077.3,526.5 1077.8,526.5 1078.3,526.5 1078.8,526.5 1079.0,526.5 1079.3,526.5 1079.8,526.5 1080.3,526.5 1080.8,526.5 1081.3,526.5 1081.8,526.5 1083.0,526.5 1087.0,526.5 1091.0,526.6 1095.0,526.6 1099.0,526.6 1103.0,526.6 1107.0,526.6 1111.0,526.6 1115.0,526.6 1119.0,526.6 1123.0,526.6 1127.0,526.6 1131.0,526.6 1135.0,526.6 1139.0,526.6 1143.0,526.6 1147.0,526.6 1151.0,526.6 1155.0,526.7 1159.0,526.7 1163.0,526.7 1167.0,526.7 1171.0,526.7 1175.0,526.7 1179.0,526.6 1183.0,526.6 1183.8,526.6 1184.3,526.6 1184.8,526.6 1185.3,526.6 1185.8,526.6 1186.3,526.6 1186.8,526.6 1187.0,526.6 1187.3,526.6 1187.8,526.6 1188.3,526.6 1188.8,526.6 1189.3,526.6 1189.8,526.6 1190.3,526.6 1190.8,526.5 1191.0,526.5 1191.3,526.5 1191.8,526.5 1192.3,526.5 1192.8,526.5 1193.3,526.5 1193.8,526.5 1194.3,526.5 1194.8,526.4 1195.0,526.4 1195.3,526.4 1195.8,526.4 1196.3,526.3 1196.8,526.3 1197.3,526.2 1197.8,526.1 1198.3,525.9 1198.8,525.7 1199.0,525.7 1199.3,525.5 1199.8,525.1 1200.3,524.7 1200.8,524.0 1201.3,523.2 1201.8,522.2 1202.3,521.0 1202.8,519.6 1203.0,518.9 1203.3,517.8 1203.8,515.9 1204.3,513.6 1204.8,511.2 1205.3,508.7 1205.8,506.2 1206.3,503.6 1206.8,501.3 1207.0,500.4 1207.3,499.2 1207.8,497.5 1208.3,496.4 1208.8,495.8 1209.3,495.9 1209.8,496.6 1210.3,497.8 1210.8,499.6 1211.0,500.4 1211.3,501.7 1211.8,504.1 1212.3,506.7 1212.8,509.2 1213.3,511.8 1213.8,514.1 1214.3,516.3 1214.8,518.2 1215.0,518.9 1215.3,519.9 1215.8,521.3 1216.3,522.5 1216.8,523.4 1217.3,524.2 1217.8,524.8 1218.3,525.2 1218.8,525.6 1219.0,525.7 1219.3,525.8 1219.8,526.0 1220.3,526.1 1220.8,526.2 1221.3,526.3 1221.8,526.4 1222.3,526.4 1222.8,526.5 1223.0,526.5 1223.3,526.5 1223.8,526.5 1224.3,526.5 1224.8,526.5 1225.3,526.6 1225.8,526.6 1226.3,526.6 1226.8,526.6 1227.0,526.6 1227.3,526.6 1227.8,526.6 1228.3,526.6 1228.8,526.6 1229.3,526.6 1229.8,526.7 1230.3,526.7 1230.8,526.7 1231.0,526.7 1231.3,526.7 1231.8,526.7 1232.3,526.7 1232.8,526.7 1233.3,526.7 1233.8,526.7 1235.0,526.7 1239.0,526.7 1243.0,526.8 1247.0,526.8 1251.0,526.8 1255.0,526.8 1259.0,526.8 1263.0,526.8 1267.0,526.8 1271.0,526.8 1275.0,526.9 1279.0,526.9 1283.0,526.9 1287.0,526.9 1291.0,526.9 1295.0,526.9 1299.0,526.9 1303.0,526.9 1307.0,526.9 1311.0,526.9 1315.0,526.9 1319.0,526.9 1323.0,526.9 1327.0,527.0 1331.0,527.0 1335.0,527.0 1339.0,527.0 1343.0,527.0 1347.0,527.0 1351.0,527.0 1355.0,527.0 1359.0,527.0 1363.0,527.0 1367.0,527.0 1371.0,527.0 1375.0,527.0 1379.0,527.0 1383.0,527.0 1387.0,527.0 1391.0,527.0 1395.0,527.0 1399.0,527.0 1403.0,527.0 1407.0,527.0 1411.0,527.0 1415.0,527.0 1419.0,527.0 1423.0,527.0 1427.0,527.0 1431.0,527.0 1435.0,527.0 1439.0,527.0 1443.0,527.0 1447.0,527.0 1451.0,527.0 1455.0,527.0 1459.0,527.0 1463.0,526.9 1463.1,526.9 1463.6,526.9 1464.1,526.9 1464.6,526.9 1465.1,526.9 1465.6,526.9 1466.1,526.9 1466.6,526.9 1467.0,526.9 1467.1,526.9 1467.6,526.9 1468.1,526.9 1468.6,526.9 1469.1,526.9 1469.6,526.9 1470.1,526.9 1470.6,526.9 1471.0,526.9 1471.1,526.9 1471.6,526.9 1472.1,526.9 1472.6,526.9 1473.1,526.9 1473.6,526.9 1474.1,526.9 1474.6,526.8 1475.0,526.8 1475.1,526.8 1475.6,526.8 1476.1,526.8 1476.6,526.8 1477.1,526.7 1477.6,526.7 1478.1,526.6 1478.6,526.5 1479.0,526.5 1479.1,526.4 1479.6,526.3 1480.1,526.1 1480.6,525.8 1481.1,525.5 1481.6,525.1 1482.1,524.6 1482.6,524.0 1483.0,523.4 1483.1,523.3 1483.6,522.4 1484.1,521.5 1484.6,520.4 1485.1,519.3 1485.6,518.1 1486.1,516.8 1486.6,515.6 1487.0,514.7 1487.1,514.5 1487.6,513.5 1488.1,512.6 1488.6,512.0 1489.1,511.6 1489.6,511.6 1490.1,511.8 1490.6,512.2 1491.0,512.8 1491.1,513.0 1491.6,513.9 1492.1,515.0 1492.6,516.1 1493.1,517.3 1493.6,518.6 1494.1,519.7 1494.6,520.8 1495.0,521.7 1495.1,521.9 1495.6,522.8 1496.1,523.6 1496.6,524.2 1497.1,524.8 1497.6,525.3 1498.1,525.7 1498.6,525.9 1499.0,526.1 1499.1,526.2 1499.6,526.3 1500.1,526.5 1500.6,526.6 1501.1,526.7 1501.6,526.7 1502.1,526.8 1502.6,526.8 1503.0,526.8 1503.1,526.8 1503.6,526.8 1504.1,526.8 1504.6,526.8 1505.1,526.9 1505.6,526.9 1506.1,526.9 1506.6,526.9 1507.0,526.9 1507.1,526.9 1507.6,526.9 1508.1,526.9 1508.6,526.9 1509.1,526.9 1509.6,526.9 1510.1,526.9 1510.6,526.9 1511.0,526.9 1511.1,526.9 1511.6,526.9 1512.1,526.9 1512.6,526.9 1513.1,526.9 1513.6,526.9 1514.1,526.9 1514.6,526.9 1515.0,526.9 1515.1,526.9 1515.6,526.9 1519.0,527.0 1523.0,527.0 1527.0,527.0 1531.0,527.0 1535.0,527.0 1539.0,527.0 1543.0,527.0 1547.0,527.0 1551.0,527.0 1555.0,527.0 1559.0,527.0 1563.0,527.0 1567.0,527.0 1571.0,527.0 1575.0,527.0 1579.0,527.0 1583.0,527.0 1587.0,527.0 1591.0,527.0 1595.0,527.0 1596.3,527.0 1596.8,527.0 1597.3,527.0 1597.8,527.0 1598.3,527.0 1598.8,527.0 1599.0,527.0 1599.3,527.0 1599.8,527.0 1600.3,527.0 1600.8,527.0 1601.3,527.0 1601.8,527.0 1602.3,527.0 1602.8,527.0 1603.0,527.0 1603.3,527.0 1603.8,527.0 1604.3,527.0 1604.8,527.0 1605.3,527.0 1605.8,527.0 1606.3,527.0 1606.8,527.0 1607.0,527.0 1607.3,527.0 1607.8,527.0 1608.3,527.0 1608.8,527.0 1609.3,527.0 1609.8,527.0 1610.3,526.9 1610.8,526.9 1611.0,526.9 1611.3,526.9 1611.8,526.9 1612.3,526.9 1612.8,526.8 1613.3,526.8 1613.8,526.7 1614.3,526.6 1614.8,526.5 1615.0,526.5 1615.3,526.4 1615.8,526.3 1616.3,526.1 1616.8,526.0 1617.3,525.8 1617.8,525.6 1618.3,525.4 1618.8,525.2 1619.0,525.1 1619.3,525.0 1619.8,524.8 1620.3,524.7 1620.8,524.6 1621.3,524.5 1621.8,524.6 1622.3,524.6 1622.8,524.7 1623.0,524.8 1623.3,524.8 1623.8,525.0 1624.3,525.2 1624.8,525.4 1625.3,525.6 1625.8,525.8 1626.3,526.0 1626.8,526.2 1627.0,526.2 1627.3,526.3 1627.8,526.5 1628.3,526.6 1628.8,526.7 1629.3,526.7 1629.8,526.8 1630.3,526.8 1630.8,526.9 1631.0,526.9 1631.3,526.9 1631.8,526.9 1632.3,526.9 1632.8,526.9 1633.3,527.0 1633.8,527.0 1634.3,527.0 1634.8,527.0 1635.0,527.0 1635.3,527.0 1635.8,527.0 1636.3,527.0 1636.8,527.0 1637.3,527.0 1637.8,527.0 1638.3,527.0 1638.8,527.0 1639.0,527.0 1639.3,527.0 1639.8,527.0 1640.3,527.0 1640.8,527.0 1641.3,527.0 1641.8,527.0 1642.3,527.0 1642.8,527.0 1643.0,527.0 1643.3,527.0 1643.8,527.0 1644.3,527.0 1644.8,527.0 1645.3,527.0 1645.8,527.0 1646.3,527.0 1647.0,527.0 1651.0,527.0 1655.0,527.0 1659.0,527.0 1663.0,527.0 1667.0,527.0 1671.0,527.0 1675.0,527.0 1679.0,527.0 1683.0,527.0 1687.0,527.0 1691.0,527.0 1695.0,527.0 1699.0,527.0 1703.0,527.0 1707.0,527.0 1711.0,527.0 1715.0,527.0 1719.0,527.0 1723.0,527.0 1723.6,527.0 1724.1,527.0 1724.6,527.0 1725.1,527.0 1725.6,527.0 1726.1,527.0 1726.6,527.0 1727.0,527.0 1727.1,527.0 1727.6,527.0 1728.1,527.0 1728.6,527.0 1729.1,527.0 1729.6,527.0 1730.1,526.9 1730.6,526.9 1731.0,526.9 1731.1,526.9 1731.6,526.9 1732.1,526.9 1732.6,526.9 1733.1,526.9 1733.6,526.9 1734.1,526.9 1734.6,526.9 1735.0,526.9 1735.1,526.9 1735.6,526.9 1736.1,526.9 1736.6,526.9 1737.1,526.9 1737.6,526.8 1738.1,526.8 1738.6,526.8 1739.0,526.7 1739.1,526.7 1739.6,526.7 1740.1,526.6 1740.6,526.5 1741.1,526.3 1741.6,526.1 1742.1,525.9 1742.6,525.6 1743.0,525.3 1743.1,525.3 1743.6,524.8 1744.1,524.3 1744.6,523.8 1745.1,523.2 1745.6,522.5 1746.1,521.8 1746.6,521.1 1747.0,520.6 1747.1,520.4 1747.6,519.8 1748.1,519.2 1748.6,518.7 1749.1,518.3 1749.6,518.1 1750.1,518.1 1750.6,518.2 1751.0,518.4 1751.1,518.4 1751.6,518.9 1752.1,519.4 1752.6,520.0 1753.1,520.7 1753.6,521.4 1754.1,522.1 1754.6,522.8 1755.0,523.3 1755.1,523.4 1755.6,524.0 1756.1,524.6 1756.6,525.0 1757.1,525.4 1757.6,525.7 1758.1,526.0 1758.6,526.2 1759.0,526.4 1759.1,526.4 1759.6,526.5 1760.1,526.6 1760.6,526.7 1761.1,526.8 1761.6,526.8 1762.1,526.8 1762.6,526.9 1763.0,526.9 1763.1,526.9 1763.6,526.9 1764.1,526.9 1764.6,526.9 1765.1,526.9 1765.6,526.9 1766.1,526.9 1766.6,526.9 1767.0,526.9 1767.1,526.9 1767.6,526.9 1768.1,526.9 1768.6,526.9 1769.1,526.9 1769.6,526.9 1770.1,526.9 1770.6,527.0 1771.0,527.0 1771.1,527.0 1771.6,527.0 1772.1,527.0 1772.6,527.0 1773.1,527.0 1773.6,527.0 1774.1,527.0 1774.6,527.0 1775.0,527.0 1775.1,527.0 1775.6,527.0 1776.1,527.0 1779.0,527.0 1783.0,527.0 1787.0,527.0 1791.0,527.0 1795.0,527.0 1799.0,527.0 1803.0,527.0 1807.0,527.0 1811.0,527.0 1815.0,527.0 1819.0,527.0 1823.0,527.0 1827.0,527.0 1831.0,527.0 1835.0,527.0 1839.0,527.0 1843.0,527.0 1847.0,527.0 1851.0,527.0 1852.0,527.0 1852.5,527.0 1853.0,527.0 1853.5,527.0 1854.0,527.0 1854.5,527.0 1855.0,527.0 1855.5,527.0 1856.0,527.0 1856.5,527.0 1857.0,527.0 1857.5,527.0 1858.0,527.0 1858.5,527.0 1859.0,527.0 1859.5,527.0 1860.0,527.0 1860.5,527.0 1861.0,527.0 1861.5,527.0 1862.0,527.0 1862.5,527.0 1863.0,527.0 1863.5,527.0 1864.0,527.0 1864.5,526.9 1865.0,526.9 1865.5,526.9 1866.0,526.9 1866.5,526.9 1867.0,526.8 1867.5,526.8 1868.0,526.7 1868.5,526.7 1869.0,526.6 1869.5,526.4 1870.0,526.3 1870.5,526.1 1871.0,525.9 1871.5,525.6 1872.0,525.4 1872.5,525.1 1873.0,524.8 1873.5,524.5 1874.0,524.3 1874.5,524.1 1875.0,523.9 1875.5,523.8 1876.0,523.7 1876.5,523.8 1877.0,523.9 1877.5,524.1 1878.0,524.3 1878.5,524.5 1879.0,524.8 1879.5,525.1 1880.0,525.4 1880.5,525.6 1881.0,525.9 1881.5,526.1 1882.0,526.3 1882.5,526.4 1883.0,526.6 1883.5,526.7 1884.0,526.7 1884.5,526.8 1885.0,526.8 1885.5,526.9 1886.0,526.9 1886.5,526.9 1887.0,526.9 1887.5,526.9 1888.0,527.0 1888.5,527.0 1889.0,527.0 1889.5,527.0 1890.0,527.0 1890.5,527.0 1891.0,527.0 1891.5,527.0 1892.0,527.0 1892.5,527.0 1893.0,527.0 1893.5,527.0 1894.0,527.0 1894.5,527.0 1895.0,527.0" fill="none" stroke="#EC0E12" stroke-width="7.5" stroke-linejoin="round" stroke-linecap="butt"/>
<path d="M155.0,733.0 159.0,733.0 163.0,733.1 167.0,733.2 171.0,733.2 175.0,733.3 179.0,733.3 183.0,733.4 187.0,733.4 191.0,733.5 195.0,733.5 199.0,733.6 203.0,733.6 204.5,733.6 205.0,733.6 205.5,733.6 206.0,733.6 206.5,733.6 207.0,733.6 207.5,733.6 208.0,733.6 208.5,733.6 209.0,733.6 209.5,733.6 210.0,733.6 210.5,733.6 211.0,733.6 211.5,733.6 212.0,733.6 212.5,733.6 213.0,733.6 213.5,733.5 214.0,733.5 214.5,733.4 215.0,733.3 215.5,733.1 216.0,732.8 216.5,732.4 217.0,731.7 217.5,730.9 218.0,729.7 218.5,728.3 219.0,726.5 219.5,724.5 220.0,722.4 220.5,720.3 221.0,718.3 221.5,716.7 222.0,715.6 222.5,715.2 223.0,715.6 223.5,716.7 224.0,718.3 224.5,720.3 225.0,722.5 225.5,724.6 226.0,726.6 226.5,728.4 227.0,729.8 227.5,731.0 228.0,731.9 228.5,732.5 229.0,733.0 229.5,733.3 230.0,733.5 230.5,733.6 231.0,733.7 231.5,733.8 232.0,733.8 232.5,733.9 233.0,733.9 233.5,733.9 234.0,733.9 234.5,734.0 235.0,734.0 235.5,734.0 236.0,734.0 236.5,734.0 237.0,734.0 237.5,734.0 238.0,734.1 238.5,734.1 239.0,734.1 239.5,734.1 240.0,734.1 240.5,734.1 243.0,734.2 247.0,734.2 251.0,734.3 255.0,734.4 259.0,734.4 263.0,734.5 267.0,734.5 271.0,734.6 275.0,734.6 279.0,734.7 283.0,734.7 287.0,734.8 291.0,734.9 295.0,734.9 299.0,735.0 303.0,735.1 307.0,735.1 311.0,735.2 315.0,735.3 319.0,735.4 319.5,735.4 320.0,735.5 320.5,735.5 321.0,735.5 321.5,735.5 322.0,735.5 322.5,735.5 323.0,735.5 323.5,735.5 324.0,735.5 324.5,735.5 325.0,735.6 325.5,735.6 326.0,735.6 326.5,735.6 327.0,735.6 327.5,735.6 328.0,735.6 328.5,735.6 329.0,735.6 329.5,735.6 330.0,735.6 330.5,735.7 331.0,735.7 331.5,735.7 332.0,735.7 332.5,735.7 333.0,735.7 333.5,735.7 334.0,735.7 334.5,735.7 335.0,735.7 335.5,735.6 336.0,735.6 336.5,735.6 337.0,735.5 337.5,735.4 338.0,735.3 338.5,735.2 339.0,735.0 339.5,734.8 340.0,734.5 340.5,734.2 341.0,733.8 341.5,733.4 342.0,732.8 342.5,732.3 343.0,731.6 343.5,730.9 344.0,730.1 344.5,729.3 345.0,728.5 345.5,727.7 346.0,726.9 346.5,726.1 347.0,725.5 347.5,725.0 348.0,724.6 348.5,724.3 349.0,724.2 349.5,724.3 350.0,724.6 350.5,725.0 351.0,725.6 351.5,726.3 352.0,727.0 352.5,727.8 353.0,728.7 353.5,729.5 354.0,730.4 354.5,731.1 355.0,731.9 355.5,732.6 356.0,733.2 356.5,733.7 357.0,734.2 357.5,734.6 358.0,735.0 358.5,735.3 359.0,735.5 359.5,735.7 360.0,735.9 360.5,736.0 361.0,736.1 361.5,736.2 362.0,736.3 362.5,736.3 363.0,736.4 363.5,736.4 364.0,736.4 364.5,736.5 365.0,736.5 365.5,736.5 366.0,736.5 366.5,736.5 367.0,736.6 367.5,736.6 368.0,736.6 368.5,736.6 369.0,736.6 369.5,736.6 370.0,736.7 370.5,736.7 371.0,736.7 371.5,736.7 372.0,736.7 372.5,736.7 373.0,736.8 373.5,736.8 374.0,736.8 374.5,736.8 375.0,736.8 375.5,736.8 376.0,736.8 376.5,736.9 377.0,736.9 377.5,736.9 378.0,736.9 378.5,736.9 379.0,736.9 383.0,737.0 387.0,737.1 391.0,737.2 395.0,737.3 399.0,737.4 403.0,737.5 407.0,737.6 411.0,737.7 415.0,737.8 419.0,737.9 423.0,738.0 427.0,738.1 431.0,738.2 435.0,738.3 439.0,738.3 443.0,738.4 447.0,738.5 451.0,738.5 455.0,738.6 459.0,738.7 463.0,738.7 467.0,738.7 471.0,738.7 475.0,738.7 478.2,738.6 478.7,738.6 479.0,738.6 479.2,738.6 479.7,738.5 480.2,738.5 480.7,738.5 481.2,738.4 481.7,738.4 482.2,738.3 482.7,738.3 483.0,738.2 483.2,738.2 483.7,738.1 484.2,738.0 484.7,737.9 485.2,737.8 485.7,737.6 486.2,737.3 486.7,737.0 487.0,736.7 487.2,736.4 487.7,735.5 488.2,734.0 488.7,731.7 489.2,728.2 489.7,722.9 490.2,715.3 490.7,705.0 491.0,697.4 491.2,691.7 491.7,675.4 492.2,656.6 492.7,636.2 493.2,615.9 493.7,597.5 494.2,583.3 494.7,575.1 495.0,573.7 495.2,574.4 495.7,581.1 496.2,594.3 496.7,612.0 497.2,632.2 497.7,652.7 498.2,671.9 498.7,688.8 499.0,697.6 499.2,702.8 499.7,713.7 500.2,721.8 500.7,727.5 501.2,731.4 501.7,733.9 502.2,735.5 502.7,736.6 503.0,737.0 503.2,737.2 503.7,737.6 504.2,737.9 504.7,738.1 505.2,738.3 505.7,738.4 506.2,738.5 506.7,738.7 507.0,738.7 507.2,738.7 507.7,738.8 508.2,738.9 508.7,739.0 509.2,739.0 509.7,739.1 510.2,739.1 510.7,739.2 511.0,739.2 511.2,739.2 511.7,739.3 515.0,739.5 519.0,739.7 523.0,739.8 527.0,739.9 531.0,739.9 535.0,739.9 539.0,739.9 543.0,740.0 547.0,740.0 551.0,740.0 555.0,740.0 559.0,740.0 563.0,740.0 567.0,740.0 571.0,740.1 575.0,740.1 579.0,740.1 583.0,740.1 587.0,740.1 591.0,740.1 595.0,740.1 599.0,740.1 603.0,740.1 607.0,740.1 611.0,740.1 615.0,740.1 619.0,740.2 623.0,740.2 627.0,740.2 631.0,740.2 635.0,740.2 639.0,740.2 643.0,740.2 647.0,740.2 651.0,740.2 655.0,740.2 659.0,740.2 663.0,740.2 667.0,740.2 671.0,740.2 675.0,740.2 679.0,740.2 683.0,740.2 686.4,740.2 686.9,740.2 687.0,740.2 687.4,740.2 687.9,740.2 688.4,740.1 688.9,740.1 689.4,740.1 689.9,740.1 690.4,740.1 690.9,740.1 691.0,740.1 691.4,740.1 691.9,740.1 692.4,740.1 692.9,740.1 693.4,740.0 693.9,740.0 694.4,740.0 694.9,740.0 695.0,740.0 695.4,740.0 695.9,739.9 696.4,739.9 696.9,739.9 697.4,739.8 697.9,739.7 698.4,739.6 698.9,739.4 699.0,739.3 699.4,739.1 699.9,738.7 700.4,738.1 700.9,737.3 701.4,736.3 701.9,734.9 702.4,733.2 702.9,731.1 703.0,730.7 703.4,728.6 703.9,725.8 704.4,722.6 704.9,719.2 705.4,715.8 705.9,712.5 706.4,709.5 706.9,707.2 707.0,706.8 707.4,705.6 707.9,704.9 708.4,705.2 708.9,706.4 709.4,708.5 709.9,711.3 710.4,714.4 710.9,717.8 711.0,718.5 711.4,721.3 711.9,724.5 712.4,727.5 712.9,730.2 713.4,732.5 713.9,734.3 714.4,735.8 714.9,737.0 715.0,737.2 715.4,737.8 715.9,738.5 716.4,739.0 716.9,739.3 717.4,739.5 717.9,739.7 718.4,739.8 718.9,739.9 719.0,739.9 719.4,739.9 719.9,740.0 720.4,740.0 720.9,740.0 721.4,740.1 721.9,740.1 722.4,740.1 722.9,740.1 723.0,740.1 723.4,740.1 723.9,740.1 724.4,740.2 724.9,740.2 725.4,740.2 725.9,740.2 726.4,740.2 726.9,740.2 727.0,740.2 727.4,740.2 727.9,740.2 728.4,740.2 728.9,740.2 729.4,740.2 731.0,740.3 735.0,740.3 739.0,740.3 743.0,740.3 747.0,740.4 751.0,740.4 755.0,740.4 759.0,740.4 763.0,740.4 767.0,740.4 771.0,740.4 775.0,740.4 779.0,740.4 783.0,740.4 787.0,740.4 791.0,740.4 795.0,740.4 799.0,740.4 803.0,740.4 807.0,740.4 811.0,740.4 815.0,740.4 819.0,740.4 823.0,740.4 827.0,740.4 831.0,740.4 835.0,740.4 839.0,740.4 843.0,740.4 847.0,740.4 851.0,740.4 855.0,740.4 859.0,740.4 863.0,740.4 866.3,740.4 866.8,740.4 867.0,740.4 867.3,740.3 867.8,740.3 868.3,740.3 868.8,740.3 869.3,740.3 869.8,740.3 870.3,740.3 870.8,740.3 871.0,740.3 871.3,740.3 871.8,740.3 872.3,740.3 872.8,740.2 873.3,740.2 873.8,740.2 874.3,740.2 874.8,740.2 875.0,740.2 875.3,740.2 875.8,740.1 876.3,740.1 876.8,740.1 877.3,740.1 877.8,740.0 878.3,740.0 878.8,739.9 879.0,739.9 879.3,739.8 879.8,739.7 880.3,739.5 880.8,739.3 881.3,739.0 881.8,738.6 882.3,738.1 882.8,737.3 883.0,737.0 883.3,736.4 883.8,735.2 884.3,733.7 884.8,731.8 885.3,729.6 885.8,726.9 886.3,723.9 886.8,720.5 887.0,719.1 887.3,716.9 887.8,713.0 888.3,709.1 888.8,705.3 889.3,701.7 889.8,698.5 890.3,696.0 890.8,694.2 891.0,693.7 891.3,693.3 891.8,693.4 892.3,694.5 892.8,696.4 893.3,699.1 893.8,702.4 894.3,706.0 894.8,709.9 895.0,711.5 895.3,713.8 895.8,717.6 896.3,721.3 896.8,724.6 897.3,727.5 897.8,730.0 898.3,732.2 898.8,734.0 899.0,734.6 899.3,735.5 899.8,736.6 900.3,737.5 900.8,738.2 901.3,738.7 901.8,739.1 902.3,739.4 902.8,739.6 903.0,739.7 903.3,739.7 903.8,739.8 904.3,739.9 904.8,740.0 905.3,740.0 905.8,740.1 906.3,740.1 906.8,740.2 907.0,740.2 907.3,740.2 907.8,740.2 908.3,740.2 908.8,740.2 909.3,740.3 909.8,740.3 910.3,740.3 910.8,740.3 911.0,740.3 911.3,740.3 911.8,740.3 912.3,740.3 912.8,740.3 913.3,740.4 913.8,740.4 914.3,740.4 914.8,740.4 915.0,740.4 915.3,740.4 915.8,740.4 916.3,740.4 919.0,740.4 923.0,740.5 927.0,740.5 931.0,740.5 935.0,740.5 939.0,740.5 943.0,740.6 947.0,740.6 951.0,740.6 955.0,740.6 959.0,740.6 963.0,740.6 967.0,740.6 971.0,740.6 975.0,740.6 979.0,740.6 983.0,740.6 987.0,740.6 991.0,740.6 995.0,740.6 999.0,740.6 1003.0,740.6 1007.0,740.6 1011.0,740.6 1015.0,740.6 1019.0,740.6 1023.0,740.6 1027.0,740.6 1031.0,740.6 1031.8,740.6 1032.3,740.6 1032.8,740.6 1033.3,740.6 1033.8,740.6 1034.3,740.6 1034.8,740.6 1035.0,740.6 1035.3,740.6 1035.8,740.6 1036.3,740.6 1036.8,740.6 1037.3,740.6 1037.8,740.6 1038.3,740.6 1038.8,740.6 1039.0,740.6 1039.3,740.6 1039.8,740.6 1040.3,740.6 1040.8,740.6 1041.3,740.6 1041.8,740.6 1042.3,740.6 1042.8,740.6 1043.0,740.6 1043.3,740.6 1043.8,740.6 1044.3,740.6 1044.8,740.6 1045.3,740.6 1045.8,740.5 1046.3,740.5 1046.8,740.4 1047.0,740.4 1047.3,740.4 1047.8,740.3 1048.3,740.2 1048.8,740.0 1049.3,739.8 1049.8,739.6 1050.3,739.3 1050.8,739.0 1051.0,738.8 1051.3,738.5 1051.8,738.1 1052.3,737.5 1052.8,737.0 1053.3,736.4 1053.8,735.7 1054.3,735.1 1054.8,734.6 1055.0,734.4 1055.3,734.1 1055.8,733.7 1056.3,733.4 1056.8,733.3 1057.3,733.3 1057.8,733.4 1058.3,733.7 1058.8,734.2 1059.0,734.4 1059.3,734.7 1059.8,735.3 1060.3,735.9 1060.8,736.5 1061.3,737.1 1061.8,737.7 1062.3,738.2 1062.8,738.6 1063.0,738.8 1063.3,739.0 1063.8,739.4 1064.3,739.7 1064.8,739.9 1065.3,740.1 1065.8,740.2 1066.3,740.3 1066.8,740.4 1067.0,740.4 1067.3,740.5 1067.8,740.5 1068.3,740.6 1068.8,740.6 1069.3,740.6 1069.8,740.6 1070.3,740.6 1070.8,740.6 1071.0,740.6 1071.3,740.6 1071.8,740.6 1072.3,740.6 1072.8,740.7 1073.3,740.7 1073.8,740.7 1074.3,740.7 1074.8,740.7 1075.0,740.7 1075.3,740.7 1075.8,740.7 1076.3,740.7 1076.8,740.7 1077.3,740.7 1077.8,740.7 1078.3,740.7 1078.8,740.7 1079.0,740.7 1079.3,740.7 1079.8,740.7 1080.3,740.7 1080.8,740.7 1081.3,740.7 1081.8,740.7 1083.0,740.7 1087.0,740.7 1091.0,740.7 1095.0,740.7 1099.0,740.7 1103.0,740.7 1107.0,740.7 1111.0,740.7 1115.0,740.7 1119.0,740.7 1123.0,740.8 1127.0,740.8 1131.0,740.8 1135.0,740.8 1139.0,740.8 1143.0,740.8 1147.0,740.8 1151.0,740.8 1155.0,740.8 1159.0,740.8 1163.0,740.8 1167.0,740.8 1171.0,740.8 1175.0,740.7 1179.0,740.7 1183.0,740.7 1183.8,740.7 1184.3,740.7 1184.8,740.7 1185.3,740.7 1185.8,740.7 1186.3,740.7 1186.8,740.6 1187.0,740.6 1187.3,740.6 1187.8,740.6 1188.3,740.6 1188.8,740.6 1189.3,740.6 1189.8,740.6 1190.3,740.6 1190.8,740.6 1191.0,740.6 1191.3,740.5 1191.8,740.5 1192.3,740.5 1192.8,740.5 1193.3,740.5 1193.8,740.5 1194.3,740.4 1194.8,740.4 1195.0,740.4 1195.3,740.4 1195.8,740.3 1196.3,740.2 1196.8,740.2 1197.3,740.0 1197.8,739.9 1198.3,739.7 1198.8,739.4 1199.0,739.3 1199.3,739.0 1199.8,738.5 1200.3,737.8 1200.8,736.9 1201.3,735.7 1201.8,734.3 1202.3,732.5 1202.8,730.4 1203.0,729.4 1203.3,727.9 1203.8,725.0 1204.3,721.8 1204.8,718.3 1205.3,714.6 1205.8,710.9 1206.3,707.2 1206.8,703.8 1207.0,702.5 1207.3,700.8 1207.8,698.3 1208.3,696.6 1208.8,695.8 1209.3,695.9 1209.8,696.9 1210.3,698.8 1210.8,701.3 1211.0,702.5 1211.3,704.4 1211.8,707.9 1212.3,711.6 1212.8,715.4 1213.3,719.0 1213.8,722.5 1214.3,725.6 1214.8,728.4 1215.0,729.4 1215.3,730.9 1215.8,732.9 1216.3,734.6 1216.8,736.0 1217.3,737.1 1217.8,738.0 1218.3,738.6 1218.8,739.1 1219.0,739.3 1219.3,739.5 1219.8,739.8 1220.3,739.9 1220.8,740.1 1221.3,740.2 1221.8,740.3 1222.3,740.3 1222.8,740.4 1223.0,740.4 1223.3,740.4 1223.8,740.5 1224.3,740.5 1224.8,740.5 1225.3,740.5 1225.8,740.6 1226.3,740.6 1226.8,740.6 1227.0,740.6 1227.3,740.6 1227.8,740.6 1228.3,740.6 1228.8,740.6 1229.3,740.7 1229.8,740.7 1230.3,740.7 1230.8,740.7 1231.0,740.7 1231.3,740.7 1231.8,740.7 1232.3,740.7 1232.8,740.7 1233.3,740.7 1233.8,740.7 1235.0,740.7 1239.0,740.8 1243.0,740.8 1247.0,740.8 1251.0,740.8 1255.0,740.9 1259.0,740.9 1263.0,740.9 1267.0,740.9 1271.0,740.9 1275.0,740.9 1279.0,740.9 1283.0,740.9 1287.0,740.9 1291.0,740.9 1295.0,740.9 1299.0,740.9 1303.0,740.9 1307.0,740.9 1311.0,740.9 1315.0,741.0 1319.0,741.0 1323.0,741.0 1327.0,741.0 1331.0,741.0 1335.0,741.0 1339.0,741.0 1343.0,741.0 1347.0,741.0 1351.0,741.0 1355.0,741.0 1359.0,741.0 1363.0,741.0 1367.0,741.0 1371.0,741.0 1375.0,741.0 1379.0,741.0 1383.0,741.0 1387.0,741.0 1391.0,741.0 1395.0,741.0 1399.0,741.0 1403.0,741.0 1407.0,741.0 1411.0,741.0 1415.0,741.0 1419.0,741.0 1423.0,741.0 1427.0,741.0 1431.0,741.0 1435.0,741.0 1439.0,741.0 1443.0,741.0 1447.0,741.0 1451.0,741.0 1455.0,741.0 1459.0,740.9 1463.0,740.9 1463.1,740.9 1463.6,740.9 1464.1,740.9 1464.6,740.9 1465.1,740.9 1465.6,740.9 1466.1,740.9 1466.6,740.9 1467.0,740.9 1467.1,740.9 1467.6,740.9 1468.1,740.9 1468.6,740.9 1469.1,740.9 1469.6,740.9 1470.1,740.9 1470.6,740.9 1471.0,740.9 1471.1,740.9 1471.6,740.9 1472.1,740.9 1472.6,740.8 1473.1,740.8 1473.6,740.8 1474.1,740.8 1474.6,740.8 1475.0,740.8 1475.1,740.8 1475.6,740.8 1476.1,740.7 1476.6,740.7 1477.1,740.7 1477.6,740.6 1478.1,740.5 1478.6,740.4 1479.0,740.3 1479.1,740.3 1479.6,740.1 1480.1,739.9 1480.6,739.5 1481.1,739.1 1481.6,738.6 1482.1,738.0 1482.6,737.2 1483.0,736.5 1483.1,736.3 1483.6,735.3 1484.1,734.1 1484.6,732.8 1485.1,731.4 1485.6,729.9 1486.1,728.4 1486.6,726.9 1487.0,725.7 1487.1,725.4 1487.6,724.2 1488.1,723.1 1488.6,722.3 1489.1,721.9 1489.6,721.8 1490.1,722.0 1490.6,722.6 1491.0,723.3 1491.1,723.5 1491.6,724.7 1492.1,726.0 1492.6,727.4 1493.1,729.0 1493.6,730.5 1494.1,732.0 1494.6,733.3 1495.0,734.4 1495.1,734.6 1495.6,735.7 1496.1,736.7 1496.6,737.6 1497.1,738.3 1497.6,738.9 1498.1,739.3 1498.6,739.7 1499.0,739.9 1499.1,740.0 1499.6,740.2 1500.1,740.4 1500.6,740.5 1501.1,740.6 1501.6,740.6 1502.1,740.7 1502.6,740.7 1503.0,740.8 1503.1,740.8 1503.6,740.8 1504.1,740.8 1504.6,740.8 1505.1,740.8 1505.6,740.8 1506.1,740.8 1506.6,740.9 1507.0,740.9 1507.1,740.9 1507.6,740.9 1508.1,740.9 1508.6,740.9 1509.1,740.9 1509.6,740.9 1510.1,740.9 1510.6,740.9 1511.0,740.9 1511.1,740.9 1511.6,740.9 1512.1,740.9 1512.6,740.9 1513.1,740.9 1513.6,740.9 1514.1,740.9 1514.6,740.9 1515.0,740.9 1515.1,740.9 1515.6,740.9 1519.0,740.9 1523.0,741.0 1527.0,741.0 1531.0,741.0 1535.0,741.0 1539.0,741.0 1543.0,741.0 1547.0,741.0 1551.0,741.0 1555.0,741.0 1559.0,741.0 1563.0,741.0 1567.0,741.0 1571.0,741.0 1575.0,741.0 1579.0,741.0 1583.0,741.0 1587.0,741.0 1591.0,741.0 1595.0,741.0 1596.3,741.0 1596.8,741.0 1597.3,741.0 1597.8,741.0 1598.3,741.0 1598.8,741.0 1599.0,741.0 1599.3,741.0 1599.8,741.0 1600.3,741.0 1600.8,741.0 1601.3,741.0 1601.8,741.0 1602.3,741.0 1602.8,741.0 1603.0,741.0 1603.3,741.0 1603.8,741.0 1604.3,741.0 1604.8,741.0 1605.3,741.0 1605.8,741.0 1606.3,741.0 1606.8,741.0 1607.0,741.0 1607.3,741.0 1607.8,741.0 1608.3,741.0 1608.8,741.0 1609.3,741.0 1609.8,741.0 1610.3,740.9 1610.8,740.9 1611.0,740.9 1611.3,740.9 1611.8,740.9 1612.3,740.9 1612.8,740.8 1613.3,740.8 1613.8,740.7 1614.3,740.7 1614.8,740.6 1615.0,740.5 1615.3,740.4 1615.8,740.3 1616.3,740.2 1616.8,740.0 1617.3,739.8 1617.8,739.6 1618.3,739.4 1618.8,739.2 1619.0,739.2 1619.3,739.1 1619.8,738.9 1620.3,738.8 1620.8,738.7 1621.3,738.6 1621.8,738.7 1622.3,738.7 1622.8,738.8 1623.0,738.9 1623.3,738.9 1623.8,739.1 1624.3,739.3 1624.8,739.5 1625.3,739.7 1625.8,739.9 1626.3,740.0 1626.8,740.2 1627.0,740.3 1627.3,740.3 1627.8,740.5 1628.3,740.6 1628.8,740.7 1629.3,740.7 1629.8,740.8 1630.3,740.8 1630.8,740.9 1631.0,740.9 1631.3,740.9 1631.8,740.9 1632.3,740.9 1632.8,740.9 1633.3,741.0 1633.8,741.0 1634.3,741.0 1634.8,741.0 1635.0,741.0 1635.3,741.0 1635.8,741.0 1636.3,741.0 1636.8,741.0 1637.3,741.0 1637.8,741.0 1638.3,741.0 1638.8,741.0 1639.0,741.0 1639.3,741.0 1639.8,741.0 1640.3,741.0 1640.8,741.0 1641.3,741.0 1641.8,741.0 1642.3,741.0 1642.8,741.0 1643.0,741.0 1643.3,741.0 1643.8,741.0 1644.3,741.0 1644.8,741.0 1645.3,741.0 1645.8,741.0 1646.3,741.0 1647.0,741.0 1651.0,741.0 1655.0,741.0 1659.0,741.0 1663.0,741.0 1667.0,741.0 1671.0,741.0 1675.0,741.0 1679.0,741.0 1683.0,741.0 1687.0,741.0 1691.0,741.0 1695.0,741.0 1699.0,741.0 1703.0,741.0 1707.0,741.0 1711.0,741.0 1715.0,741.0 1719.0,741.0 1723.0,740.9 1723.6,740.9 1724.1,740.9 1724.6,740.9 1725.1,740.9 1725.6,740.9 1726.1,740.9 1726.6,740.9 1727.0,740.9 1727.1,740.9 1727.6,740.9 1728.1,740.9 1728.6,740.9 1729.1,740.9 1729.6,740.9 1730.1,740.9 1730.6,740.9 1731.0,740.9 1731.1,740.9 1731.6,740.9 1732.1,740.9 1732.6,740.9 1733.1,740.9 1733.6,740.9 1734.1,740.9 1734.6,740.9 1735.0,740.8 1735.1,740.8 1735.6,740.8 1736.1,740.8 1736.6,740.8 1737.1,740.8 1737.6,740.7 1738.1,740.7 1738.6,740.6 1739.0,740.6 1739.1,740.5 1739.6,740.4 1740.1,740.3 1740.6,740.1 1741.1,739.8 1741.6,739.5 1742.1,739.1 1742.6,738.6 1743.0,738.1 1743.1,738.0 1743.6,737.3 1744.1,736.5 1744.6,735.5 1745.1,734.5 1745.6,733.3 1746.1,732.1 1746.6,730.9 1747.0,730.0 1747.1,729.7 1747.6,728.6 1748.1,727.6 1748.6,726.7 1749.1,726.1 1749.6,725.7 1750.1,725.7 1750.6,725.9 1751.0,726.2 1751.1,726.3 1751.6,727.0 1752.1,728.0 1752.6,729.0 1753.1,730.2 1753.6,731.4 1754.1,732.6 1754.6,733.8 1755.0,734.7 1755.1,734.9 1755.6,735.9 1756.1,736.8 1756.6,737.6 1757.1,738.3 1757.6,738.8 1758.1,739.3 1758.6,739.7 1759.0,739.9 1759.1,740.0 1759.6,740.2 1760.1,740.4 1760.6,740.5 1761.1,740.6 1761.6,740.7 1762.1,740.7 1762.6,740.8 1763.0,740.8 1763.1,740.8 1763.6,740.8 1764.1,740.8 1764.6,740.8 1765.1,740.8 1765.6,740.9 1766.1,740.9 1766.6,740.9 1767.0,740.9 1767.1,740.9 1767.6,740.9 1768.1,740.9 1768.6,740.9 1769.1,740.9 1769.6,740.9 1770.1,740.9 1770.6,740.9 1771.0,740.9 1771.1,740.9 1771.6,740.9 1772.1,740.9 1772.6,740.9 1773.1,740.9 1773.6,740.9 1774.1,740.9 1774.6,740.9 1775.0,740.9 1775.1,740.9 1775.6,740.9 1776.1,740.9 1779.0,741.0 1783.0,741.0 1787.0,741.0 1791.0,741.0 1795.0,741.0 1799.0,741.0 1803.0,741.0 1807.0,741.0 1811.0,741.0 1815.0,741.0 1819.0,741.0 1823.0,741.0 1827.0,741.0 1831.0,741.0 1835.0,741.0 1839.0,741.0 1843.0,741.0 1847.0,741.0 1851.0,741.0 1852.0,741.0 1852.5,741.0 1853.0,741.0 1853.5,741.0 1854.0,741.0 1854.5,741.0 1855.0,741.0 1855.5,741.0 1856.0,741.0 1856.5,741.0 1857.0,741.0 1857.5,741.0 1858.0,741.0 1858.5,741.0 1859.0,741.0 1859.5,741.0 1860.0,741.0 1860.5,741.0 1861.0,741.0 1861.5,741.0 1862.0,741.0 1862.5,740.9 1863.0,740.9 1863.5,740.9 1864.0,740.9 1864.5,740.9 1865.0,740.9 1865.5,740.9 1866.0,740.9 1866.5,740.8 1867.0,740.8 1867.5,740.7 1868.0,740.6 1868.5,740.5 1869.0,740.3 1869.5,740.1 1870.0,739.9 1870.5,739.6 1871.0,739.3 1871.5,738.9 1872.0,738.5 1872.5,738.1 1873.0,737.7 1873.5,737.2 1874.0,736.9 1874.5,736.5 1875.0,736.3 1875.5,736.1 1876.0,736.0 1876.5,736.1 1877.0,736.3 1877.5,736.5 1878.0,736.9 1878.5,737.2 1879.0,737.7 1879.5,738.1 1880.0,738.5 1880.5,738.9 1881.0,739.3 1881.5,739.6 1882.0,739.9 1882.5,740.1 1883.0,740.3 1883.5,740.5 1884.0,740.6 1884.5,740.7 1885.0,740.8 1885.5,740.8 1886.0,740.9 1886.5,740.9 1887.0,740.9 1887.5,740.9 1888.0,740.9 1888.5,740.9 1889.0,740.9 1889.5,740.9 1890.0,741.0 1890.5,741.0 1891.0,741.0 1891.5,741.0 1892.0,741.0 1892.5,741.0 1893.0,741.0 1893.5,741.0 1894.0,741.0 1894.5,741.0 1895.0,741.0" fill="none" stroke="#1038CC" stroke-width="8.5" stroke-linejoin="round" stroke-linecap="butt"/>
<path d="M155.0,982.0 159.0,982.0 163.0,982.1 167.0,982.2 171.0,982.2 175.0,982.3 179.0,982.3 183.0,982.4 187.0,982.4 191.0,982.5 195.0,982.5 199.0,982.6 203.0,982.6 204.5,982.6 205.0,982.6 205.5,982.6 206.0,982.6 206.5,982.6 207.0,982.6 207.5,982.6 208.0,982.6 208.5,982.6 209.0,982.6 209.5,982.6 210.0,982.6 210.5,982.6 211.0,982.6 211.5,982.6 212.0,982.6 212.5,982.6 213.0,982.6 213.5,982.5 214.0,982.5 214.5,982.4 215.0,982.3 215.5,982.1 216.0,981.7 216.5,981.3 217.0,980.6 217.5,979.7 218.0,978.4 218.5,976.9 219.0,975.0 219.5,972.9 220.0,970.6 220.5,968.3 221.0,966.2 221.5,964.5 222.0,963.3 222.5,962.9 223.0,963.3 223.5,964.5 224.0,966.2 224.5,968.4 225.0,970.7 225.5,973.0 226.0,975.1 226.5,977.0 227.0,978.6 227.5,979.8 228.0,980.7 228.5,981.4 229.0,981.9 229.5,982.2 230.0,982.5 230.5,982.6 231.0,982.7 231.5,982.8 232.0,982.8 232.5,982.9 233.0,982.9 233.5,982.9 234.0,982.9 234.5,982.9 235.0,983.0 235.5,983.0 236.0,983.0 236.5,983.0 237.0,983.0 237.5,983.0 238.0,983.0 238.5,983.1 239.0,983.1 239.5,983.1 240.0,983.1 240.5,983.1 243.0,983.2 247.0,983.2 251.0,983.3 255.0,983.3 259.0,983.4 263.0,983.5 267.0,983.5 271.0,983.6 275.0,983.6 279.0,983.7 283.0,983.7 287.0,983.8 291.0,983.8 295.0,983.9 299.0,983.9 303.0,984.0 307.0,984.1 311.0,984.2 315.0,984.3 319.0,984.4 319.5,984.4 320.0,984.4 320.5,984.4 321.0,984.4 321.5,984.4 322.0,984.4 322.5,984.4 323.0,984.5 323.5,984.5 324.0,984.5 324.5,984.5 325.0,984.5 325.5,984.5 326.0,984.5 326.5,984.5 327.0,984.5 327.5,984.5 328.0,984.5 328.5,984.5 329.0,984.5 329.5,984.5 330.0,984.5 330.5,984.5 331.0,984.5 331.5,984.5 332.0,984.5 332.5,984.5 333.0,984.5 333.5,984.5 334.0,984.5 334.5,984.5 335.0,984.4 335.5,984.4 336.0,984.3 336.5,984.2 337.0,984.0 337.5,983.9 338.0,983.6 338.5,983.3 339.0,982.9 339.5,982.5 340.0,981.9 340.5,981.2 341.0,980.3 341.5,979.3 342.0,978.2 342.5,976.9 343.0,975.5 343.5,973.9 344.0,972.3 344.5,970.5 345.0,968.7 345.5,967.0 346.0,965.3 346.5,963.7 347.0,962.3 347.5,961.1 348.0,960.3 348.5,959.7 349.0,959.5 349.5,959.7 350.0,960.3 350.5,961.2 351.0,962.4 351.5,963.8 352.0,965.4 352.5,967.1 353.0,968.9 353.5,970.7 354.0,972.5 354.5,974.2 355.0,975.8 355.5,977.2 356.0,978.5 356.5,979.7 357.0,980.7 357.5,981.6 358.0,982.3 358.5,982.9 359.0,983.4 359.5,983.8 360.0,984.2 360.5,984.4 361.0,984.6 361.5,984.8 362.0,984.9 362.5,985.0 363.0,985.1 363.5,985.2 364.0,985.2 364.5,985.3 365.0,985.3 365.5,985.4 366.0,985.4 366.5,985.4 367.0,985.4 367.5,985.5 368.0,985.5 368.5,985.5 369.0,985.5 369.5,985.6 370.0,985.6 370.5,985.6 371.0,985.6 371.5,985.6 372.0,985.6 372.5,985.7 373.0,985.7 373.5,985.7 374.0,985.7 374.5,985.7 375.0,985.8 375.5,985.8 376.0,985.8 376.5,985.8 377.0,985.8 377.5,985.8 378.0,985.8 378.5,985.9 379.0,985.9 383.0,986.0 387.0,986.1 391.0,986.2 395.0,986.3 399.0,986.4 403.0,986.5 407.0,986.6 411.0,986.7 415.0,986.8 419.0,986.9 423.0,987.0 427.0,987.1 431.0,987.1 435.0,987.2 439.0,987.2 443.0,987.3 447.0,987.3 451.0,987.4 455.0,987.4 459.0,987.4 463.0,987.5 467.0,987.5 471.0,987.5 475.0,987.4 478.2,987.3 478.7,987.2 479.0,987.2 479.2,987.2 479.7,987.2 480.2,987.1 480.7,987.1 481.2,987.0 481.7,987.0 482.2,986.9 482.7,986.8 483.0,986.8 483.2,986.7 483.7,986.6 484.2,986.5 484.7,986.4 485.2,986.2 485.7,986.0 486.2,985.7 486.7,985.3 487.0,984.9 487.2,984.6 487.7,983.6 488.2,981.9 488.7,979.3 489.2,975.2 489.7,969.2 490.2,960.5 490.7,948.7 491.0,940.0 491.2,933.5 491.7,914.8 492.2,893.3 492.7,870.0 493.2,846.7 493.7,825.7 494.2,809.4 494.7,800.1 495.0,798.5 495.2,799.3 495.7,807.0 496.2,822.0 496.7,842.3 497.2,865.3 497.7,888.8 498.2,910.8 498.7,930.2 499.0,940.2 499.2,946.1 499.7,958.6 500.2,967.8 500.7,974.3 501.2,978.8 501.7,981.7 502.2,983.5 502.7,984.7 503.0,985.2 503.2,985.4 503.7,985.9 504.2,986.2 504.7,986.5 505.2,986.7 505.7,986.8 506.2,986.9 506.7,987.1 507.0,987.1 507.2,987.2 507.7,987.3 508.2,987.3 508.7,987.4 509.2,987.5 509.7,987.5 510.2,987.6 510.7,987.7 511.0,987.7 511.2,987.7 511.7,987.7 515.0,988.0 519.0,988.2 523.0,988.3 527.0,988.3 531.0,988.3 535.0,988.4 539.0,988.4 543.0,988.4 547.0,988.4 551.0,988.4 555.0,988.4 559.0,988.4 563.0,988.4 567.0,988.4 571.0,988.4 575.0,988.3 579.0,988.3 583.0,988.3 587.0,988.3 591.0,988.3 595.0,988.3 599.0,988.3 603.0,988.3 607.0,988.3 611.0,988.3 615.0,988.3 619.0,988.3 623.0,988.3 627.0,988.2 631.0,988.2 635.0,988.2 639.0,988.2 643.0,988.2 647.0,988.2 651.0,988.2 655.0,988.2 659.0,988.2 663.0,988.1 667.0,988.1 671.0,988.1 675.0,988.1 679.0,988.1 683.0,988.0 686.4,988.0 686.9,988.0 687.0,988.0 687.4,988.0 687.9,988.0 688.4,988.0 688.9,988.0 689.4,988.0 689.9,987.9 690.4,987.9 690.9,987.9 691.0,987.9 691.4,987.9 691.9,987.9 692.4,987.9 692.9,987.9 693.4,987.8 693.9,987.8 694.4,987.8 694.9,987.8 695.0,987.8 695.4,987.8 695.9,987.7 696.4,987.7 696.9,987.6 697.4,987.5 697.9,987.4 698.4,987.3 698.9,987.1 699.0,987.0 699.4,986.8 699.9,986.3 700.4,985.7 700.9,984.8 701.4,983.7 701.9,982.2 702.4,980.3 702.9,978.0 703.0,977.5 703.4,975.3 703.9,972.2 704.4,968.7 704.9,965.0 705.4,961.2 705.9,957.6 706.4,954.4 706.9,951.8 707.0,951.4 707.4,950.0 707.9,949.3 708.4,949.6 708.9,951.0 709.4,953.3 709.9,956.3 710.4,959.7 710.9,963.5 711.0,964.2 711.4,967.2 711.9,970.8 712.4,974.1 712.9,977.0 713.4,979.5 713.9,981.5 714.4,983.1 714.9,984.4 715.0,984.6 715.4,985.3 715.9,986.1 716.4,986.6 716.9,986.9 717.4,987.2 717.9,987.3 718.4,987.5 718.9,987.5 719.0,987.6 719.4,987.6 719.9,987.6 720.4,987.7 720.9,987.7 721.4,987.7 721.9,987.8 722.4,987.8 722.9,987.8 723.0,987.8 723.4,987.8 723.9,987.8 724.4,987.8 724.9,987.8 725.4,987.9 725.9,987.9 726.4,987.9 726.9,987.9 727.0,987.9 727.4,987.9 727.9,987.9 728.4,987.9 728.9,987.9 729.4,987.9 731.0,987.9 735.0,987.9 739.0,988.0 743.0,988.0 747.0,988.0 751.0,988.0 755.0,988.0 759.0,988.0 763.0,988.0 767.0,988.0 771.0,988.0 775.0,988.0 779.0,988.0 783.0,988.0 787.0,988.0 791.0,988.0 795.0,988.1 799.0,988.1 803.0,988.1 807.0,988.1 811.0,988.1 815.0,988.1 819.0,988.1 823.0,988.1 827.0,988.1 831.0,988.1 835.0,988.1 839.0,988.1 843.0,988.1 847.0,988.1 851.0,988.1 855.0,988.1 859.0,988.1 863.0,988.1 866.3,988.0 866.8,988.0 867.0,988.0 867.3,988.0 867.8,988.0 868.3,988.0 868.8,988.0 869.3,988.0 869.8,988.0 870.3,988.0 870.8,988.0 871.0,988.0 871.3,988.0 871.8,987.9 872.3,987.9 872.8,987.9 873.3,987.9 873.8,987.9 874.3,987.9 874.8,987.8 875.0,987.8 875.3,987.8 875.8,987.8 876.3,987.8 876.8,987.7 877.3,987.7 877.8,987.7 878.3,987.6 878.8,987.5 879.0,987.5 879.3,987.5 879.8,987.3 880.3,987.2 880.8,986.9 881.3,986.6 881.8,986.2 882.3,985.6 882.8,984.9 883.0,984.5 883.3,983.9 883.8,982.6 884.3,981.0 884.8,979.1 885.3,976.7 885.8,974.0 886.3,970.8 886.8,967.3 887.0,965.8 887.3,963.5 887.8,959.5 888.3,955.3 888.8,951.3 889.3,947.6 889.8,944.3 890.3,941.6 890.8,939.7 891.0,939.3 891.3,938.8 891.8,938.9 892.3,940.0 892.8,942.1 893.3,944.9 893.8,948.3 894.3,952.1 894.8,956.2 895.0,957.8 895.3,960.3 895.8,964.3 896.3,968.1 896.8,971.5 897.3,974.6 897.8,977.3 898.3,979.5 898.8,981.4 899.0,982.0 899.3,982.9 899.8,984.1 900.3,985.1 900.8,985.8 901.3,986.3 901.8,986.7 902.3,987.0 902.8,987.2 903.0,987.3 903.3,987.4 903.8,987.5 904.3,987.6 904.8,987.7 905.3,987.7 905.8,987.8 906.3,987.8 906.8,987.8 907.0,987.8 907.3,987.9 907.8,987.9 908.3,987.9 908.8,987.9 909.3,987.9 909.8,988.0 910.3,988.0 910.8,988.0 911.0,988.0 911.3,988.0 911.8,988.0 912.3,988.0 912.8,988.0 913.3,988.1 913.8,988.1 914.3,988.1 914.8,988.1 915.0,988.1 915.3,988.1 915.8,988.1 916.3,988.1 919.0,988.1 923.0,988.2 927.0,988.2 931.0,988.2 935.0,988.2 939.0,988.3 943.0,988.3 947.0,988.3 951.0,988.3 955.0,988.3 959.0,988.3 963.0,988.3 967.0,988.3 971.0,988.3 975.0,988.4 979.0,988.4 983.0,988.4 987.0,988.4 991.0,988.4 995.0,988.4 999.0,988.4 1003.0,988.4 1007.0,988.4 1011.0,988.4 1015.0,988.4 1019.0,988.4 1023.0,988.4 1027.0,988.4 1031.0,988.4 1031.8,988.4 1032.3,988.4 1032.8,988.4 1033.3,988.4 1033.8,988.4 1034.3,988.4 1034.8,988.4 1035.0,988.4 1035.3,988.4 1035.8,988.4 1036.3,988.4 1036.8,988.4 1037.3,988.4 1037.8,988.4 1038.3,988.4 1038.8,988.4 1039.0,988.4 1039.3,988.4 1039.8,988.4 1040.3,988.4 1040.8,988.4 1041.3,988.4 1041.8,988.4 1042.3,988.4 1042.8,988.4 1043.0,988.4 1043.3,988.4 1043.8,988.4 1044.3,988.4 1044.8,988.4 1045.3,988.3 1045.8,988.3 1046.3,988.3 1046.8,988.2 1047.0,988.2 1047.3,988.1 1047.8,988.1 1048.3,987.9 1048.8,987.8 1049.3,987.6 1049.8,987.3 1050.3,987.0 1050.8,986.6 1051.0,986.4 1051.3,986.1 1051.8,985.6 1052.3,985.0 1052.8,984.4 1053.3,983.7 1053.8,983.0 1054.3,982.3 1054.8,981.7 1055.0,981.5 1055.3,981.2 1055.8,980.7 1056.3,980.4 1056.8,980.3 1057.3,980.3 1057.8,980.5 1058.3,980.8 1058.8,981.3 1059.0,981.5 1059.3,981.8 1059.8,982.5 1060.3,983.2 1060.8,983.8 1061.3,984.5 1061.8,985.1 1062.3,985.7 1062.8,986.2 1063.0,986.4 1063.3,986.7 1063.8,987.1 1064.3,987.4 1064.8,987.6 1065.3,987.8 1065.8,988.0 1066.3,988.1 1066.8,988.2 1067.0,988.2 1067.3,988.3 1067.8,988.3 1068.3,988.4 1068.8,988.4 1069.3,988.4 1069.8,988.4 1070.3,988.4 1070.8,988.4 1071.0,988.4 1071.3,988.4 1071.8,988.5 1072.3,988.5 1072.8,988.5 1073.3,988.5 1073.8,988.5 1074.3,988.5 1074.8,988.5 1075.0,988.5 1075.3,988.5 1075.8,988.5 1076.3,988.5 1076.8,988.5 1077.3,988.5 1077.8,988.5 1078.3,988.5 1078.8,988.5 1079.0,988.5 1079.3,988.5 1079.8,988.5 1080.3,988.5 1080.8,988.5 1081.3,988.5 1081.8,988.5 1083.0,988.5 1087.0,988.5 1091.0,988.5 1095.0,988.6 1099.0,988.6 1103.0,988.6 1107.0,988.6 1111.0,988.6 1115.0,988.6 1119.0,988.6 1123.0,988.6 1127.0,988.6 1131.0,988.6 1135.0,988.6 1139.0,988.6 1143.0,988.6 1147.0,988.6 1151.0,988.6 1155.0,988.6 1159.0,988.6 1163.0,988.6 1167.0,988.6 1171.0,988.6 1175.0,988.6 1179.0,988.6 1183.0,988.6 1183.8,988.6 1184.3,988.5 1184.8,988.5 1185.3,988.5 1185.8,988.5 1186.3,988.5 1186.8,988.5 1187.0,988.5 1187.3,988.5 1187.8,988.5 1188.3,988.5 1188.8,988.5 1189.3,988.5 1189.8,988.4 1190.3,988.4 1190.8,988.4 1191.0,988.4 1191.3,988.4 1191.8,988.4 1192.3,988.4 1192.8,988.3 1193.3,988.3 1193.8,988.3 1194.3,988.3 1194.8,988.2 1195.0,988.2 1195.3,988.2 1195.8,988.1 1196.3,988.1 1196.8,988.0 1197.3,987.8 1197.8,987.7 1198.3,987.4 1198.8,987.1 1199.0,986.9 1199.3,986.6 1199.8,986.1 1200.3,985.3 1200.8,984.2 1201.3,982.9 1201.8,981.3 1202.3,979.2 1202.8,976.8 1203.0,975.7 1203.3,973.9 1203.8,970.6 1204.3,967.0 1204.8,963.0 1205.3,958.8 1205.8,954.5 1206.3,950.3 1206.8,946.4 1207.0,945.0 1207.3,943.0 1207.8,940.2 1208.3,938.3 1208.8,937.3 1209.3,937.4 1209.8,938.6 1210.3,940.7 1210.8,943.6 1211.0,945.0 1211.3,947.2 1211.8,951.2 1212.3,955.4 1212.8,959.7 1213.3,963.8 1213.8,967.8 1214.3,971.4 1214.8,974.6 1215.0,975.7 1215.3,977.3 1215.8,979.7 1216.3,981.7 1216.8,983.2 1217.3,984.5 1217.8,985.5 1218.3,986.2 1218.8,986.8 1219.0,987.0 1219.3,987.2 1219.8,987.5 1220.3,987.7 1220.8,987.9 1221.3,988.0 1221.8,988.1 1222.3,988.2 1222.8,988.2 1223.0,988.3 1223.3,988.3 1223.8,988.3 1224.3,988.3 1224.8,988.4 1225.3,988.4 1225.8,988.4 1226.3,988.4 1226.8,988.5 1227.0,988.5 1227.3,988.5 1227.8,988.5 1228.3,988.5 1228.8,988.5 1229.3,988.5 1229.8,988.6 1230.3,988.6 1230.8,988.6 1231.0,988.6 1231.3,988.6 1231.8,988.6 1232.3,988.6 1232.8,988.6 1233.3,988.6 1233.8,988.6 1235.0,988.6 1239.0,988.7 1243.0,988.7 1247.0,988.8 1251.0,988.8 1255.0,988.8 1259.0,988.8 1263.0,988.8 1267.0,988.8 1271.0,988.8 1275.0,988.8 1279.0,988.9 1283.0,988.9 1287.0,988.9 1291.0,988.9 1295.0,988.9 1299.0,988.9 1303.0,988.9 1307.0,988.9 1311.0,988.9 1315.0,988.9 1319.0,988.9 1323.0,988.9 1327.0,989.0 1331.0,989.0 1335.0,989.0 1339.0,989.0 1343.0,989.0 1347.0,989.0 1351.0,989.0 1355.0,989.0 1359.0,989.0 1363.0,989.0 1367.0,989.0 1371.0,989.0 1375.0,989.0 1379.0,989.0 1383.0,989.0 1387.0,989.0 1391.0,989.0 1395.0,989.0 1399.0,989.0 1403.0,989.0 1407.0,989.0 1411.0,989.0 1415.0,989.0 1419.0,989.0 1423.0,989.1 1427.0,989.1 1431.0,989.1 1435.0,989.1 1439.0,989.1 1443.0,989.1 1447.0,989.1 1451.0,989.1 1455.0,989.1 1459.0,989.0 1463.0,989.0 1463.1,989.0 1463.6,989.0 1464.1,989.0 1464.6,989.0 1465.1,989.0 1465.6,989.0 1466.1,989.0 1466.6,989.0 1467.0,989.0 1467.1,989.0 1467.6,989.0 1468.1,989.0 1468.6,989.0 1469.1,989.0 1469.6,989.0 1470.1,989.0 1470.6,989.0 1471.0,989.0 1471.1,989.0 1471.6,989.0 1472.1,989.0 1472.6,988.9 1473.1,988.9 1473.6,988.9 1474.1,988.9 1474.6,988.9 1475.0,988.9 1475.1,988.9 1475.6,988.9 1476.1,988.8 1476.6,988.8 1477.1,988.7 1477.6,988.7 1478.1,988.6 1478.6,988.5 1479.0,988.4 1479.1,988.3 1479.6,988.1 1480.1,987.8 1480.6,987.5 1481.1,987.0 1481.6,986.4 1482.1,985.7 1482.6,984.9 1483.0,984.1 1483.1,983.8 1483.6,982.6 1484.1,981.3 1484.6,979.8 1485.1,978.2 1485.6,976.5 1486.1,974.8 1486.6,973.0 1487.0,971.7 1487.1,971.4 1487.6,970.0 1488.1,968.8 1488.6,967.9 1489.1,967.4 1489.6,967.3 1490.1,967.5 1490.6,968.2 1491.0,969.0 1491.1,969.2 1491.6,970.5 1492.1,972.1 1492.6,973.7 1493.1,975.5 1493.6,977.2 1494.1,978.8 1494.6,980.4 1495.0,981.6 1495.1,981.9 1495.6,983.2 1496.1,984.3 1496.6,985.2 1497.1,986.0 1497.6,986.7 1498.1,987.2 1498.6,987.6 1499.0,987.9 1499.1,988.0 1499.6,988.2 1500.1,988.4 1500.6,988.5 1501.1,988.6 1501.6,988.7 1502.1,988.8 1502.6,988.8 1503.0,988.9 1503.1,988.9 1503.6,988.9 1504.1,988.9 1504.6,988.9 1505.1,988.9 1505.6,989.0 1506.1,989.0 1506.6,989.0 1507.0,989.0 1507.1,989.0 1507.6,989.0 1508.1,989.0 1508.6,989.0 1509.1,989.0 1509.6,989.0 1510.1,989.0 1510.6,989.0 1511.0,989.0 1511.1,989.0 1511.6,989.0 1512.1,989.0 1512.6,989.1 1513.1,989.1 1513.6,989.1 1514.1,989.1 1514.6,989.1 1515.0,989.1 1515.1,989.1 1515.6,989.1 1519.0,989.1 1523.0,989.1 1527.0,989.1 1531.0,989.1 1535.0,989.1 1539.0,989.1 1543.0,989.2 1547.0,989.2 1551.0,989.2 1555.0,989.2 1559.0,989.2 1563.0,989.2 1567.0,989.2 1571.0,989.2 1575.0,989.2 1579.0,989.2 1583.0,989.2 1587.0,989.2 1591.0,989.2 1595.0,989.2 1596.3,989.2 1596.8,989.2 1597.3,989.2 1597.8,989.2 1598.3,989.2 1598.8,989.2 1599.0,989.2 1599.3,989.2 1599.8,989.2 1600.3,989.2 1600.8,989.2 1601.3,989.2 1601.8,989.2 1602.3,989.2 1602.8,989.2 1603.0,989.2 1603.3,989.2 1603.8,989.2 1604.3,989.2 1604.8,989.2 1605.3,989.2 1605.8,989.2 1606.3,989.2 1606.8,989.2 1607.0,989.2 1607.3,989.2 1607.8,989.2 1608.3,989.2 1608.8,989.2 1609.3,989.2 1609.8,989.1 1610.3,989.1 1610.8,989.1 1611.0,989.1 1611.3,989.1 1611.8,989.0 1612.3,989.0 1612.8,988.9 1613.3,988.8 1613.8,988.7 1614.3,988.5 1614.8,988.3 1615.0,988.2 1615.3,988.1 1615.8,987.8 1616.3,987.5 1616.8,987.1 1617.3,986.7 1617.8,986.3 1618.3,985.9 1618.8,985.5 1619.0,985.4 1619.3,985.1 1619.8,984.8 1620.3,984.5 1620.8,984.3 1621.3,984.3 1621.8,984.3 1622.3,984.4 1622.8,984.6 1623.0,984.7 1623.3,984.9 1623.8,985.2 1624.3,985.6 1624.8,986.0 1625.3,986.4 1625.8,986.8 1626.3,987.2 1626.8,987.6 1627.0,987.7 1627.3,987.9 1627.8,988.1 1628.3,988.4 1628.8,988.6 1629.3,988.7 1629.8,988.8 1630.3,988.9 1630.8,989.0 1631.0,989.0 1631.3,989.1 1631.8,989.1 1632.3,989.1 1632.8,989.2 1633.3,989.2 1633.8,989.2 1634.3,989.2 1634.8,989.2 1635.0,989.2 1635.3,989.2 1635.8,989.2 1636.3,989.2 1636.8,989.2 1637.3,989.2 1637.8,989.2 1638.3,989.2 1638.8,989.2 1639.0,989.2 1639.3,989.2 1639.8,989.2 1640.3,989.2 1640.8,989.2 1641.3,989.2 1641.8,989.2 1642.3,989.2 1642.8,989.2 1643.0,989.2 1643.3,989.2 1643.8,989.2 1644.3,989.2 1644.8,989.2 1645.3,989.2 1645.8,989.2 1646.3,989.2 1647.0,989.3 1651.0,989.3 1655.0,989.3 1659.0,989.3 1663.0,989.3 1667.0,989.3 1671.0,989.3 1675.0,989.3 1679.0,989.3 1683.0,989.3 1687.0,989.3 1691.0,989.3 1695.0,989.3 1699.0,989.3 1703.0,989.3 1707.0,989.3 1711.0,989.3 1715.0,989.3 1719.0,989.3 1723.0,989.3 1723.6,989.3 1724.1,989.3 1724.6,989.3 1725.1,989.3 1725.6,989.3 1726.1,989.3 1726.6,989.3 1727.0,989.3 1727.1,989.3 1727.6,989.3 1728.1,989.3 1728.6,989.3 1729.1,989.3 1729.6,989.3 1730.1,989.3 1730.6,989.3 1731.0,989.3 1731.1,989.3 1731.6,989.3 1732.1,989.3 1732.6,989.2 1733.1,989.2 1733.6,989.2 1734.1,989.2 1734.6,989.2 1735.0,989.2 1735.1,989.2 1735.6,989.2 1736.1,989.2 1736.6,989.2 1737.1,989.1 1737.6,989.1 1738.1,989.1 1738.6,989.0 1739.0,989.0 1739.1,988.9 1739.6,988.8 1740.1,988.7 1740.6,988.5 1741.1,988.3 1741.6,988.0 1742.1,987.6 1742.6,987.2 1743.0,986.7 1743.1,986.6 1743.6,985.9 1744.1,985.2 1744.6,984.3 1745.1,983.3 1745.6,982.3 1746.1,981.2 1746.6,980.1 1747.0,979.2 1747.1,979.0 1747.6,977.9 1748.1,977.0 1748.6,976.2 1749.1,975.7 1749.6,975.3 1750.1,975.3 1750.6,975.4 1751.0,975.8 1751.1,975.9 1751.6,976.5 1752.1,977.4 1752.6,978.4 1753.1,979.4 1753.6,980.5 1754.1,981.7 1754.6,982.7 1755.0,983.6 1755.1,983.8 1755.6,984.7 1756.1,985.5 1756.6,986.2 1757.1,986.9 1757.6,987.4 1758.1,987.8 1758.6,988.1 1759.0,988.4 1759.1,988.4 1759.6,988.6 1760.1,988.8 1760.6,988.9 1761.1,989.0 1761.6,989.1 1762.1,989.1 1762.6,989.1 1763.0,989.2 1763.1,989.2 1763.6,989.2 1764.1,989.2 1764.6,989.2 1765.1,989.2 1765.6,989.3 1766.1,989.3 1766.6,989.3 1767.0,989.3 1767.1,989.3 1767.6,989.3 1768.1,989.3 1768.6,989.3 1769.1,989.3 1769.6,989.3 1770.1,989.3 1770.6,989.3 1771.0,989.3 1771.1,989.3 1771.6,989.3 1772.1,989.3 1772.6,989.3 1773.1,989.3 1773.6,989.3 1774.1,989.3 1774.6,989.3 1775.0,989.3 1775.1,989.3 1775.6,989.3 1776.1,989.3 1779.0,989.4 1783.0,989.4 1787.0,989.4 1791.0,989.4 1795.0,989.4 1799.0,989.4 1803.0,989.4 1807.0,989.4 1811.0,989.4 1815.0,989.4 1819.0,989.4 1823.0,989.4 1827.0,989.4 1831.0,989.4 1835.0,989.4 1839.0,989.4 1843.0,989.4 1847.0,989.4 1851.0,989.4 1852.0,989.4 1852.5,989.4 1853.0,989.4 1853.5,989.4 1854.0,989.4 1854.5,989.4 1855.0,989.4 1855.5,989.4 1856.0,989.4 1856.5,989.4 1857.0,989.4 1857.5,989.4 1858.0,989.4 1858.5,989.4 1859.0,989.4 1859.5,989.4 1860.0,989.4 1860.5,989.4 1861.0,989.4 1861.5,989.4 1862.0,989.4 1862.5,989.4 1863.0,989.4 1863.5,989.4 1864.0,989.4 1864.5,989.4 1865.0,989.4 1865.5,989.3 1866.0,989.3 1866.5,989.3 1867.0,989.2 1867.5,989.1 1868.0,989.0 1868.5,988.9 1869.0,988.7 1869.5,988.5 1870.0,988.2 1870.5,987.9 1871.0,987.5 1871.5,987.1 1872.0,986.6 1872.5,986.1 1873.0,985.6 1873.5,985.1 1874.0,984.7 1874.5,984.3 1875.0,984.0 1875.5,983.8 1876.0,983.7 1876.5,983.8 1877.0,984.0 1877.5,984.3 1878.0,984.7 1878.5,985.1 1879.0,985.6 1879.5,986.1 1880.0,986.6 1880.5,987.1 1881.0,987.5 1881.5,987.9 1882.0,988.2 1882.5,988.5 1883.0,988.7 1883.5,988.9 1884.0,989.0 1884.5,989.1 1885.0,989.2 1885.5,989.3 1886.0,989.3 1886.5,989.4 1887.0,989.4 1887.5,989.4 1888.0,989.4 1888.5,989.4 1889.0,989.4 1889.5,989.4 1890.0,989.4 1890.5,989.4 1891.0,989.4 1891.5,989.5 1892.0,989.5 1892.5,989.5 1893.0,989.5 1893.5,989.5 1894.0,989.5 1894.5,989.5 1895.0,989.5" fill="none" stroke="#0096D8" stroke-width="8.5" stroke-linejoin="round" stroke-linecap="butt"/>
<path d="M155.0,1182.5 159.0,1182.5 163.0,1182.6 167.0,1182.7 171.0,1182.7 175.0,1182.8 179.0,1182.8 183.0,1182.9 187.0,1182.9 191.0,1183.0 195.0,1183.0 199.0,1183.1 203.0,1183.1 205.5,1183.1 206.0,1183.2 206.5,1183.2 207.0,1183.2 207.5,1183.2 208.0,1183.2 208.5,1183.2 209.0,1183.2 209.5,1183.2 210.0,1183.2 210.5,1183.2 211.0,1183.2 211.5,1183.2 212.0,1183.2 212.5,1183.2 213.0,1183.2 213.5,1183.2 214.0,1183.1 214.5,1183.1 215.0,1183.1 215.5,1183.0 216.0,1182.9 216.5,1182.8 217.0,1182.6 217.5,1182.2 218.0,1181.8 218.5,1181.1 219.0,1180.2 219.5,1179.1 220.0,1177.8 220.5,1176.3 221.0,1174.7 221.5,1173.1 222.0,1171.6 222.5,1170.3 223.0,1169.5 223.5,1169.2 224.0,1169.5 224.5,1170.4 225.0,1171.6 225.5,1173.1 226.0,1174.8 226.5,1176.4 227.0,1177.9 227.5,1179.2 228.0,1180.4 228.5,1181.2 229.0,1181.9 229.5,1182.4 230.0,1182.8 230.5,1183.0 231.0,1183.1 231.5,1183.3 232.0,1183.3 232.5,1183.4 233.0,1183.4 233.5,1183.4 234.0,1183.5 234.5,1183.5 235.0,1183.5 235.5,1183.5 236.0,1183.5 236.5,1183.5 237.0,1183.5 237.5,1183.6 238.0,1183.6 238.5,1183.6 239.0,1183.6 239.5,1183.6 240.0,1183.6 240.5,1183.6 241.0,1183.6 241.5,1183.6 243.0,1183.7 247.0,1183.7 251.0,1183.8 255.0,1183.9 259.0,1183.9 263.0,1184.0 267.0,1184.0 271.0,1184.1 275.0,1184.1 279.0,1184.2 283.0,1184.3 287.0,1184.3 291.0,1184.4 295.0,1184.4 299.0,1184.5 303.0,1184.6 307.0,1184.6 311.0,1184.7 315.0,1184.8 319.0,1184.9 323.0,1185.0 327.0,1185.1 331.0,1185.1 335.0,1185.2 339.0,1185.3 343.0,1185.4 347.0,1185.5 351.0,1185.6 355.0,1185.6 359.0,1185.7 363.0,1185.8 367.0,1185.9 371.0,1186.0 375.0,1186.1 379.0,1186.1 383.0,1186.2 387.0,1186.3 391.0,1186.4 395.0,1186.5 399.0,1186.5 403.0,1186.6 407.0,1186.7 411.0,1186.8 415.0,1186.9 419.0,1187.0 423.0,1187.0 427.0,1187.1 431.0,1187.2 435.0,1187.3 439.0,1187.4 443.0,1187.5 447.0,1187.6 451.0,1187.7 455.0,1187.8 459.0,1187.9 463.0,1187.9 467.0,1188.0 471.0,1188.0 475.0,1188.0 478.7,1187.9 479.0,1187.9 479.2,1187.9 479.7,1187.9 480.2,1187.9 480.7,1187.8 481.2,1187.8 481.7,1187.8 482.2,1187.7 482.7,1187.7 483.0,1187.6 483.2,1187.6 483.7,1187.6 484.2,1187.5 484.7,1187.4 485.2,1187.3 485.7,1187.2 486.2,1187.0 486.7,1186.7 487.0,1186.5 487.2,1186.4 487.7,1185.8 488.2,1184.9 488.7,1183.5 489.2,1181.3 489.7,1177.8 490.2,1172.7 490.7,1165.3 491.0,1159.7 491.2,1155.3 491.7,1142.4 492.2,1126.5 492.7,1108.2 493.2,1088.4 493.7,1068.6 494.2,1050.7 494.7,1036.9 495.0,1031.3 495.2,1029.0 495.7,1028.3 496.2,1034.8 496.7,1047.6 497.2,1064.9 497.7,1084.5 498.2,1104.4 498.7,1123.2 499.0,1133.4 499.2,1139.6 499.7,1153.2 500.2,1163.8 500.7,1171.7 501.2,1177.2 501.7,1181.0 502.2,1183.5 502.7,1185.1 503.0,1185.7 503.2,1186.1 503.7,1186.7 504.2,1187.1 504.7,1187.4 505.2,1187.6 505.7,1187.8 506.2,1187.9 506.7,1188.0 507.0,1188.1 507.2,1188.1 507.7,1188.2 508.2,1188.3 508.7,1188.4 509.2,1188.5 509.7,1188.5 510.2,1188.6 510.7,1188.6 511.0,1188.7 511.2,1188.7 511.7,1188.7 512.2,1188.8 515.0,1189.0 519.0,1189.2 523.0,1189.3 527.0,1189.4 531.0,1189.4 535.0,1189.5 539.0,1189.5 543.0,1189.5 547.0,1189.5 551.0,1189.6 555.0,1189.6 559.0,1189.6 563.0,1189.6 567.0,1189.6 571.0,1189.7 575.0,1189.7 579.0,1189.7 583.0,1189.7 587.0,1189.7 591.0,1189.8 595.0,1189.8 599.0,1189.8 603.0,1189.8 607.0,1189.8 611.0,1189.8 615.0,1189.9 619.0,1189.9 623.0,1189.9 627.0,1189.9 631.0,1189.9 635.0,1189.9 639.0,1189.9 643.0,1190.0 647.0,1190.0 651.0,1190.0 655.0,1190.0 659.0,1190.0 663.0,1190.0 667.0,1190.0 671.0,1190.0 675.0,1190.0 679.0,1190.0 683.0,1190.0 686.8,1190.0 687.0,1190.0 687.3,1190.0 687.8,1190.0 688.3,1190.0 688.8,1190.0 689.3,1190.0 689.8,1190.0 690.3,1190.0 690.8,1190.0 691.0,1190.0 691.3,1190.0 691.8,1189.9 692.3,1189.9 692.8,1189.9 693.3,1189.9 693.8,1189.9 694.3,1189.9 694.8,1189.9 695.0,1189.8 695.3,1189.8 695.8,1189.8 696.3,1189.8 696.8,1189.7 697.3,1189.7 697.8,1189.6 698.3,1189.5 698.8,1189.3 699.0,1189.3 699.3,1189.1 699.8,1188.8 700.3,1188.3 700.8,1187.7 701.3,1186.8 701.8,1185.6 702.3,1184.1 702.8,1182.1 703.0,1181.2 703.3,1179.7 703.8,1176.9 704.3,1173.6 704.8,1170.0 705.3,1166.1 705.8,1162.2 706.3,1158.5 706.8,1155.1 707.0,1153.9 707.3,1152.4 707.8,1150.6 708.3,1149.8 708.8,1150.1 709.3,1151.5 709.8,1153.9 710.3,1157.1 710.8,1160.7 711.0,1162.2 711.3,1164.6 711.8,1168.5 712.3,1172.2 712.8,1175.6 713.3,1178.7 713.8,1181.3 714.3,1183.4 714.8,1185.1 715.0,1185.7 715.3,1186.4 715.8,1187.4 716.3,1188.2 716.8,1188.7 717.3,1189.1 717.8,1189.3 718.3,1189.5 718.8,1189.6 719.0,1189.7 719.3,1189.7 719.8,1189.8 720.3,1189.9 720.8,1189.9 721.3,1189.9 721.8,1190.0 722.3,1190.0 722.8,1190.0 723.0,1190.0 723.3,1190.0 723.8,1190.0 724.3,1190.1 724.8,1190.1 725.3,1190.1 725.8,1190.1 726.3,1190.1 726.8,1190.1 727.0,1190.1 727.3,1190.1 727.8,1190.1 728.3,1190.2 728.8,1190.2 729.3,1190.2 729.8,1190.2 731.0,1190.2 735.0,1190.2 739.0,1190.3 743.0,1190.3 747.0,1190.3 751.0,1190.4 755.0,1190.4 759.0,1190.4 763.0,1190.4 767.0,1190.4 771.0,1190.4 775.0,1190.4 779.0,1190.4 783.0,1190.4 787.0,1190.4 791.0,1190.4 795.0,1190.4 799.0,1190.4 803.0,1190.4 807.0,1190.4 811.0,1190.4 815.0,1190.4 819.0,1190.4 823.0,1190.4 827.0,1190.5 831.0,1190.5 835.0,1190.5 839.0,1190.5 843.0,1190.5 847.0,1190.5 851.0,1190.5 855.0,1190.4 859.0,1190.4 863.0,1190.4 867.0,1190.4 868.4,1190.4 868.9,1190.4 869.4,1190.4 869.9,1190.4 870.4,1190.4 870.9,1190.4 871.0,1190.4 871.4,1190.4 871.9,1190.3 872.4,1190.3 872.9,1190.3 873.4,1190.3 873.9,1190.3 874.4,1190.3 874.9,1190.3 875.0,1190.3 875.4,1190.3 875.9,1190.3 876.4,1190.3 876.9,1190.2 877.4,1190.2 877.9,1190.2 878.4,1190.2 878.9,1190.2 879.0,1190.2 879.4,1190.1 879.9,1190.1 880.4,1190.1 880.9,1190.0 881.4,1189.9 881.9,1189.8 882.4,1189.7 882.9,1189.5 883.0,1189.5 883.4,1189.3 883.9,1188.9 884.4,1188.5 884.9,1187.9 885.4,1187.1 885.9,1186.1 886.4,1184.9 886.9,1183.4 887.0,1183.0 887.4,1181.5 887.9,1179.4 888.4,1176.9 888.9,1174.1 889.4,1171.1 889.9,1168.0 890.4,1164.8 890.9,1161.6 891.0,1161.0 891.4,1158.7 891.9,1156.1 892.4,1154.0 892.9,1152.5 893.4,1151.8 893.9,1151.9 894.4,1152.8 894.9,1154.3 895.0,1154.7 895.4,1156.6 895.9,1159.2 896.4,1162.2 896.9,1165.4 897.4,1168.6 897.9,1171.8 898.4,1174.7 898.9,1177.4 899.0,1177.9 899.4,1179.8 899.9,1181.9 900.4,1183.7 900.9,1185.2 901.4,1186.4 901.9,1187.3 902.4,1188.1 902.9,1188.6 903.0,1188.7 903.4,1189.0 903.9,1189.4 904.4,1189.6 904.9,1189.8 905.4,1189.9 905.9,1190.0 906.4,1190.0 906.9,1190.1 907.0,1190.1 907.4,1190.1 907.9,1190.2 908.4,1190.2 908.9,1190.2 909.4,1190.2 909.9,1190.3 910.4,1190.3 910.9,1190.3 911.0,1190.3 911.4,1190.3 911.9,1190.3 912.4,1190.3 912.9,1190.3 913.4,1190.4 913.9,1190.4 914.4,1190.4 914.9,1190.4 915.0,1190.4 915.4,1190.4 915.9,1190.4 916.4,1190.4 916.9,1190.4 917.4,1190.4 917.9,1190.4 918.4,1190.4 919.0,1190.4 923.0,1190.5 927.0,1190.5 931.0,1190.5 935.0,1190.5 939.0,1190.5 943.0,1190.6 947.0,1190.6 951.0,1190.6 955.0,1190.6 959.0,1190.6 963.0,1190.6 967.0,1190.6 971.0,1190.6 975.0,1190.6 979.0,1190.6 983.0,1190.6 987.0,1190.6 991.0,1190.6 995.0,1190.6 999.0,1190.6 1003.0,1190.6 1007.0,1190.6 1011.0,1190.6 1015.0,1190.6 1019.0,1190.6 1023.0,1190.7 1027.0,1190.7 1031.0,1190.7 1033.1,1190.7 1033.6,1190.6 1034.1,1190.6 1034.6,1190.6 1035.0,1190.6 1035.1,1190.6 1035.6,1190.6 1036.1,1190.6 1036.6,1190.6 1037.1,1190.6 1037.6,1190.6 1038.1,1190.6 1038.6,1190.6 1039.0,1190.6 1039.1,1190.6 1039.6,1190.6 1040.1,1190.6 1040.6,1190.6 1041.1,1190.6 1041.6,1190.6 1042.1,1190.6 1042.6,1190.6 1043.0,1190.6 1043.1,1190.6 1043.6,1190.6 1044.1,1190.6 1044.6,1190.6 1045.1,1190.6 1045.6,1190.6 1046.1,1190.6 1046.6,1190.6 1047.0,1190.5 1047.1,1190.5 1047.6,1190.5 1048.1,1190.4 1048.6,1190.4 1049.1,1190.3 1049.6,1190.2 1050.1,1190.0 1050.6,1189.8 1051.0,1189.7 1051.1,1189.6 1051.6,1189.3 1052.1,1189.0 1052.6,1188.5 1053.1,1188.1 1053.6,1187.5 1054.1,1187.0 1054.6,1186.4 1055.0,1185.9 1055.1,1185.7 1055.6,1185.1 1056.1,1184.6 1056.6,1184.1 1057.1,1183.7 1057.6,1183.4 1058.1,1183.3 1058.6,1183.3 1059.0,1183.4 1059.1,1183.4 1059.6,1183.7 1060.1,1184.2 1060.6,1184.7 1061.1,1185.3 1061.6,1185.9 1062.1,1186.5 1062.6,1187.1 1063.0,1187.6 1063.1,1187.7 1063.6,1188.2 1064.1,1188.6 1064.6,1189.1 1065.1,1189.4 1065.6,1189.7 1066.1,1189.9 1066.6,1190.1 1067.0,1190.2 1067.1,1190.2 1067.6,1190.3 1068.1,1190.4 1068.6,1190.5 1069.1,1190.5 1069.6,1190.6 1070.1,1190.6 1070.6,1190.6 1071.0,1190.6 1071.1,1190.6 1071.6,1190.6 1072.1,1190.6 1072.6,1190.6 1073.1,1190.6 1073.6,1190.7 1074.1,1190.7 1074.6,1190.7 1075.0,1190.7 1075.1,1190.7 1075.6,1190.7 1076.1,1190.7 1076.6,1190.7 1077.1,1190.7 1077.6,1190.7 1078.1,1190.7 1078.6,1190.7 1079.0,1190.7 1079.1,1190.7 1079.6,1190.7 1080.1,1190.7 1080.6,1190.7 1081.1,1190.7 1081.6,1190.7 1082.1,1190.7 1082.6,1190.7 1083.0,1190.7 1083.1,1190.7 1087.0,1190.7 1091.0,1190.7 1095.0,1190.7 1099.0,1190.7 1103.0,1190.7 1107.0,1190.7 1111.0,1190.7 1115.0,1190.7 1119.0,1190.8 1123.0,1190.8 1127.0,1190.8 1131.0,1190.8 1135.0,1190.8 1139.0,1190.8 1143.0,1190.8 1147.0,1190.8 1151.0,1190.8 1155.0,1190.8 1159.0,1190.8 1163.0,1190.8 1167.0,1190.8 1171.0,1190.8 1175.0,1190.7 1179.0,1190.7 1183.0,1190.7 1186.4,1190.7 1186.9,1190.7 1187.0,1190.7 1187.4,1190.7 1187.9,1190.7 1188.4,1190.7 1188.9,1190.7 1189.4,1190.6 1189.9,1190.6 1190.4,1190.6 1190.9,1190.6 1191.0,1190.6 1191.4,1190.6 1191.9,1190.6 1192.4,1190.6 1192.9,1190.6 1193.4,1190.6 1193.9,1190.5 1194.4,1190.5 1194.9,1190.5 1195.0,1190.5 1195.4,1190.5 1195.9,1190.5 1196.4,1190.4 1196.9,1190.4 1197.4,1190.4 1197.9,1190.3 1198.4,1190.3 1198.9,1190.2 1199.0,1190.2 1199.4,1190.1 1199.9,1190.0 1200.4,1189.9 1200.9,1189.6 1201.4,1189.3 1201.9,1188.9 1202.4,1188.4 1202.9,1187.7 1203.0,1187.5 1203.4,1186.8 1203.9,1185.6 1204.4,1184.1 1204.9,1182.2 1205.4,1180.0 1205.9,1177.4 1206.4,1174.5 1206.9,1171.2 1207.0,1170.5 1207.4,1167.5 1207.9,1163.8 1208.4,1159.9 1208.9,1156.1 1209.4,1152.6 1209.9,1149.4 1210.4,1146.9 1210.9,1145.2 1211.0,1144.9 1211.4,1144.3 1211.9,1144.4 1212.4,1145.5 1212.9,1147.4 1213.4,1150.0 1213.9,1153.2 1214.4,1156.8 1214.9,1160.7 1215.0,1161.4 1215.4,1164.5 1215.9,1168.3 1216.4,1171.9 1216.9,1175.1 1217.4,1178.0 1217.9,1180.5 1218.4,1182.7 1218.9,1184.4 1219.0,1184.7 1219.4,1185.9 1219.9,1187.0 1220.4,1187.9 1220.9,1188.5 1221.4,1189.1 1221.9,1189.4 1222.4,1189.7 1222.9,1189.9 1223.0,1190.0 1223.4,1190.1 1223.9,1190.2 1224.4,1190.3 1224.9,1190.3 1225.4,1190.4 1225.9,1190.4 1226.4,1190.4 1226.9,1190.5 1227.0,1190.5 1227.4,1190.5 1227.9,1190.5 1228.4,1190.5 1228.9,1190.6 1229.4,1190.6 1229.9,1190.6 1230.4,1190.6 1230.9,1190.6 1231.0,1190.6 1231.4,1190.6 1231.9,1190.6 1232.4,1190.7 1232.9,1190.7 1233.4,1190.7 1233.9,1190.7 1234.4,1190.7 1234.9,1190.7 1235.0,1190.7 1235.4,1190.7 1235.9,1190.7 1236.4,1190.7 1239.0,1190.8 1243.0,1190.8 1247.0,1190.8 1251.0,1190.8 1255.0,1190.9 1259.0,1190.9 1263.0,1190.9 1267.0,1190.9 1271.0,1190.9 1275.0,1190.9 1279.0,1190.9 1283.0,1190.9 1287.0,1190.9 1291.0,1190.9 1295.0,1190.9 1299.0,1190.9 1303.0,1190.9 1307.0,1190.9 1311.0,1190.9 1315.0,1191.0 1319.0,1191.0 1323.0,1191.0 1327.0,1191.0 1331.0,1191.0 1335.0,1191.0 1339.0,1191.0 1343.0,1191.0 1347.0,1191.0 1351.0,1191.0 1355.0,1191.0 1359.0,1191.0 1363.0,1191.0 1367.0,1191.0 1371.0,1191.0 1375.0,1191.0 1379.0,1191.0 1383.0,1191.0 1387.0,1191.0 1391.0,1191.0 1395.0,1191.0 1399.0,1191.0 1403.0,1191.0 1407.0,1191.0 1411.0,1191.0 1415.0,1191.0 1419.0,1191.0 1423.0,1191.0 1427.0,1191.0 1431.0,1191.0 1435.0,1191.0 1439.0,1191.0 1443.0,1191.0 1447.0,1191.0 1451.0,1191.0 1455.0,1191.0 1459.0,1191.0 1463.0,1190.9 1463.6,1190.9 1464.1,1190.9 1464.6,1190.9 1465.1,1190.9 1465.6,1190.9 1466.1,1190.9 1466.6,1190.9 1467.0,1190.9 1467.1,1190.9 1467.6,1190.9 1468.1,1190.9 1468.6,1190.9 1469.1,1190.9 1469.6,1190.9 1470.1,1190.9 1470.6,1190.9 1471.0,1190.9 1471.1,1190.9 1471.6,1190.9 1472.1,1190.9 1472.6,1190.9 1473.1,1190.9 1473.6,1190.8 1474.1,1190.8 1474.6,1190.8 1475.0,1190.8 1475.1,1190.8 1475.6,1190.8 1476.1,1190.8 1476.6,1190.7 1477.1,1190.7 1477.6,1190.7 1478.1,1190.6 1478.6,1190.5 1479.0,1190.5 1479.1,1190.4 1479.6,1190.3 1480.1,1190.1 1480.6,1189.9 1481.1,1189.5 1481.6,1189.1 1482.1,1188.6 1482.6,1188.0 1483.0,1187.4 1483.1,1187.2 1483.6,1186.3 1484.1,1185.3 1484.6,1184.1 1485.1,1182.8 1485.6,1181.4 1486.1,1179.9 1486.6,1178.4 1487.0,1177.1 1487.1,1176.9 1487.6,1175.4 1488.1,1174.2 1488.6,1173.1 1489.1,1172.3 1489.6,1171.9 1490.1,1171.8 1490.6,1172.0 1491.0,1172.5 1491.1,1172.6 1491.6,1173.5 1492.1,1174.7 1492.6,1176.0 1493.1,1177.4 1493.6,1179.0 1494.1,1180.5 1494.6,1182.0 1495.0,1183.1 1495.1,1183.3 1495.6,1184.6 1496.1,1185.7 1496.6,1186.7 1497.1,1187.6 1497.6,1188.3 1498.1,1188.9 1498.6,1189.3 1499.0,1189.6 1499.1,1189.7 1499.6,1190.0 1500.1,1190.2 1500.6,1190.4 1501.1,1190.5 1501.6,1190.6 1502.1,1190.6 1502.6,1190.7 1503.0,1190.7 1503.1,1190.7 1503.6,1190.8 1504.1,1190.8 1504.6,1190.8 1505.1,1190.8 1505.6,1190.8 1506.1,1190.8 1506.6,1190.8 1507.0,1190.9 1507.1,1190.9 1507.6,1190.9 1508.1,1190.9 1508.6,1190.9 1509.1,1190.9 1509.6,1190.9 1510.1,1190.9 1510.6,1190.9 1511.0,1190.9 1511.1,1190.9 1511.6,1190.9 1512.1,1190.9 1512.6,1190.9 1513.1,1190.9 1513.6,1190.9 1514.1,1190.9 1514.6,1190.9 1515.0,1190.9 1515.1,1190.9 1515.6,1190.9 1516.1,1190.9 1519.0,1190.9 1523.0,1191.0 1527.0,1191.0 1531.0,1191.0 1535.0,1191.0 1539.0,1191.0 1543.0,1191.0 1547.0,1191.0 1551.0,1191.0 1555.0,1191.0 1559.0,1191.0 1563.0,1191.0 1567.0,1191.0 1571.0,1191.0 1575.0,1191.0 1579.0,1191.0 1583.0,1191.0 1587.0,1191.0 1591.0,1191.0 1595.0,1191.0 1596.2,1191.0 1596.7,1191.0 1597.2,1191.0 1597.7,1191.0 1598.2,1191.0 1598.7,1191.0 1599.0,1191.0 1599.2,1191.0 1599.7,1191.0 1600.2,1191.0 1600.7,1191.0 1601.2,1191.0 1601.7,1191.0 1602.2,1191.0 1602.7,1191.0 1603.0,1191.0 1603.2,1191.0 1603.7,1191.0 1604.2,1191.0 1604.7,1191.0 1605.2,1191.0 1605.7,1191.0 1606.2,1191.0 1606.7,1191.0 1607.0,1191.0 1607.2,1191.0 1607.7,1191.0 1608.2,1191.0 1608.7,1191.0 1609.2,1191.0 1609.7,1191.0 1610.2,1190.9 1610.7,1190.9 1611.0,1190.9 1611.2,1190.9 1611.7,1190.9 1612.2,1190.9 1612.7,1190.8 1613.2,1190.8 1613.7,1190.7 1614.2,1190.7 1614.7,1190.6 1615.0,1190.5 1615.2,1190.4 1615.7,1190.3 1616.2,1190.2 1616.7,1190.0 1617.2,1189.8 1617.7,1189.6 1618.2,1189.4 1618.7,1189.2 1619.0,1189.1 1619.2,1189.1 1619.7,1188.9 1620.2,1188.8 1620.7,1188.7 1621.2,1188.6 1621.7,1188.7 1622.2,1188.7 1622.7,1188.8 1623.0,1188.9 1623.2,1188.9 1623.7,1189.1 1624.2,1189.3 1624.7,1189.5 1625.2,1189.7 1625.7,1189.9 1626.2,1190.0 1626.7,1190.2 1627.0,1190.3 1627.2,1190.3 1627.7,1190.5 1628.2,1190.6 1628.7,1190.7 1629.2,1190.7 1629.7,1190.8 1630.2,1190.8 1630.7,1190.9 1631.0,1190.9 1631.2,1190.9 1631.7,1190.9 1632.2,1190.9 1632.7,1190.9 1633.2,1191.0 1633.7,1191.0 1634.2,1191.0 1634.7,1191.0 1635.0,1191.0 1635.2,1191.0 1635.7,1191.0 1636.2,1191.0 1636.7,1191.0 1637.2,1191.0 1637.7,1191.0 1638.2,1191.0 1638.7,1191.0 1639.0,1191.0 1639.2,1191.0 1639.7,1191.0 1640.2,1191.0 1640.7,1191.0 1641.2,1191.0 1641.7,1191.0 1642.2,1191.0 1642.7,1191.0 1643.0,1191.0 1643.2,1191.0 1643.7,1191.0 1644.2,1191.0 1644.7,1191.0 1645.2,1191.0 1645.7,1191.0 1646.2,1191.0 1647.0,1191.0 1651.0,1191.0 1655.0,1191.0 1659.0,1191.0 1663.0,1191.0 1667.0,1191.0 1671.0,1191.0 1675.0,1191.0 1679.0,1191.0 1683.0,1191.0 1687.0,1191.0 1691.0,1191.0 1695.0,1191.0 1699.0,1191.0 1703.0,1191.0 1707.0,1191.0 1711.0,1191.0 1715.0,1191.0 1719.0,1191.0 1723.0,1191.0 1727.0,1191.0 1727.6,1191.0 1728.1,1191.0 1728.6,1191.0 1729.1,1191.0 1729.6,1191.0 1730.1,1191.0 1730.6,1191.0 1731.0,1190.9 1731.1,1190.9 1731.6,1190.9 1732.1,1190.9 1732.6,1190.9 1733.1,1190.9 1733.6,1190.9 1734.1,1190.9 1734.6,1190.9 1735.0,1190.9 1735.1,1190.9 1735.6,1190.9 1736.1,1190.9 1736.6,1190.9 1737.1,1190.9 1737.6,1190.9 1738.1,1190.9 1738.6,1190.9 1739.0,1190.9 1739.1,1190.9 1739.6,1190.9 1740.1,1190.9 1740.6,1190.8 1741.1,1190.8 1741.6,1190.8 1742.1,1190.8 1742.6,1190.7 1743.0,1190.7 1743.1,1190.7 1743.6,1190.6 1744.1,1190.5 1744.6,1190.3 1745.1,1190.1 1745.6,1189.9 1746.1,1189.6 1746.6,1189.2 1747.0,1188.9 1747.1,1188.8 1747.6,1188.2 1748.1,1187.6 1748.6,1186.9 1749.1,1186.1 1749.6,1185.3 1750.1,1184.4 1750.6,1183.5 1751.0,1182.8 1751.1,1182.6 1751.6,1181.7 1752.1,1181.0 1752.6,1180.4 1753.1,1179.9 1753.6,1179.6 1754.1,1179.6 1754.6,1179.7 1755.0,1180.0 1755.1,1180.1 1755.6,1180.6 1756.1,1181.3 1756.6,1182.1 1757.1,1182.9 1757.6,1183.8 1758.1,1184.7 1758.6,1185.6 1759.0,1186.3 1759.1,1186.4 1759.6,1187.2 1760.1,1187.9 1760.6,1188.5 1761.1,1189.0 1761.6,1189.4 1762.1,1189.7 1762.6,1190.0 1763.0,1190.2 1763.1,1190.2 1763.6,1190.4 1764.1,1190.5 1764.6,1190.6 1765.1,1190.7 1765.6,1190.7 1766.1,1190.8 1766.6,1190.8 1767.0,1190.8 1767.1,1190.8 1767.6,1190.9 1768.1,1190.9 1768.6,1190.9 1769.1,1190.9 1769.6,1190.9 1770.1,1190.9 1770.6,1190.9 1771.0,1190.9 1771.1,1190.9 1771.6,1190.9 1772.1,1190.9 1772.6,1190.9 1773.1,1190.9 1773.6,1190.9 1774.1,1190.9 1774.6,1190.9 1775.0,1190.9 1775.1,1190.9 1775.6,1190.9 1776.1,1190.9 1776.6,1190.9 1777.1,1190.9 1777.6,1191.0 1778.1,1191.0 1778.6,1191.0 1779.0,1191.0 1779.1,1191.0 1779.6,1191.0 1780.1,1191.0 1783.0,1191.0 1787.0,1191.0 1791.0,1191.0 1795.0,1191.0 1799.0,1191.0 1803.0,1191.0 1807.0,1191.0 1811.0,1191.0 1815.0,1191.0 1819.0,1191.0 1823.0,1191.0 1827.0,1191.0 1831.0,1191.0 1835.0,1191.0 1839.0,1191.0 1843.0,1191.0 1847.0,1191.0 1851.0,1191.0 1855.0,1191.0 1856.0,1191.0 1856.5,1191.0 1857.0,1191.0 1857.5,1191.0 1858.0,1191.0 1858.5,1191.0 1859.0,1191.0 1859.5,1191.0 1860.0,1191.0 1860.5,1191.0 1861.0,1191.0 1861.5,1191.0 1862.0,1191.0 1862.5,1191.0 1863.0,1191.0 1863.5,1191.0 1864.0,1191.0 1864.5,1191.0 1865.0,1191.0 1865.5,1191.0 1866.0,1191.0 1866.5,1190.9 1867.0,1190.9 1867.5,1190.9 1868.0,1190.9 1868.5,1190.9 1869.0,1190.9 1869.5,1190.9 1870.0,1190.9 1870.5,1190.8 1871.0,1190.8 1871.5,1190.7 1872.0,1190.6 1872.5,1190.5 1873.0,1190.4 1873.5,1190.2 1874.0,1189.9 1874.5,1189.7 1875.0,1189.4 1875.5,1189.0 1876.0,1188.6 1876.5,1188.2 1877.0,1187.8 1877.5,1187.4 1878.0,1187.0 1878.5,1186.7 1879.0,1186.5 1879.5,1186.3 1880.0,1186.2 1880.5,1186.3 1881.0,1186.5 1881.5,1186.7 1882.0,1187.0 1882.5,1187.4 1883.0,1187.8 1883.5,1188.2 1884.0,1188.6 1884.5,1189.0 1885.0,1189.4 1885.5,1189.7 1886.0,1189.9 1886.5,1190.2 1887.0,1190.4 1887.5,1190.5 1888.0,1190.6 1888.5,1190.7 1889.0,1190.8 1889.5,1190.8 1890.0,1190.9 1890.5,1190.9 1891.0,1190.9 1891.5,1190.9 1892.0,1190.9 1892.5,1190.9 1893.0,1190.9 1893.5,1191.0 1894.0,1191.0 1894.5,1191.0 1895.0,1191.0" fill="none" stroke="#000000" stroke-width="8.5" stroke-linejoin="round" stroke-linecap="butt"/>
<path d="M1994.0,311.0 2060.0,311.0 2080.0,310.3 2095.6,308.7 2111.2,304.8 2123.6,301.7 2134.6,297.0 2142.4,289.2 2147.0,279.9 2151.7,265.0 2156.4,254.2 2160.3,250.3 2164.2,254.2 2168.0,265.9 2172.0,273.6 2177.4,276.0 2183.7,277.5 2187.6,283.0 2192.2,292.4 2196.9,300.1 2203.1,304.8 2216.4,307.9 2235.9,310.3 2260.0,311.0 2300.0,311.5 2377.0,312.0" fill="none" stroke="#F6870F" stroke-width="7.5" stroke-linejoin="round"/>
<path d="M1994.0,525.6 2060.0,525.0 2080.0,524.7 2103.4,523.5 2119.0,521.6 2130.7,517.7 2138.5,513.8 2144.7,506.8 2150.1,495.1 2154.8,488.8 2160.3,486.9 2165.7,490.4 2173.5,495.9 2181.3,501.3 2189.1,508.3 2195.4,514.6 2201.6,520.0 2212.5,523.1 2235.9,525.1 2260.0,525.9 2377.0,526.5" fill="none" stroke="#EC0E12" stroke-width="6.8" stroke-linejoin="round"/>
<path d="M1994.0,741.7 2060.0,740.0 2080.0,738.8 2095.6,736.1 2111.2,732.2 2126.8,726.7 2136.1,722.8 2142.4,714.2 2147.0,703.3 2152.5,687.7 2157.2,676.8 2160.3,673.7 2164.2,678.4 2169.6,692.4 2173.5,700.2 2181.3,703.3 2186.0,708.0 2190.7,717.4 2196.9,727.5 2204.7,735.3 2220.3,738.4 2260.0,740.7 2377.0,742.5" fill="none" stroke="#1038CC" stroke-width="6.8" stroke-linejoin="round"/>
<path d="M1994.0,986.0 2060.0,985.5 2080.0,984.6 2103.4,982.6 2119.0,980.3 2130.7,976.4 2140.8,970.1 2146.3,962.4 2150.9,948.3 2154.8,932.7 2159.5,920.3 2165.0,917.1 2168.9,922.6 2173.5,932.7 2178.2,936.6 2183.7,939.0 2189.1,946.0 2195.4,956.1 2203.1,968.6 2210.9,976.4 2228.1,981.8 2260.0,985.7 2377.0,987.0" fill="none" stroke="#0096D8" stroke-width="7.2" stroke-linejoin="round"/>
<path d="M1994.0,1189.0 2080.0,1188.7 2087.8,1187.2 2108.8,1184.8 2121.3,1181.0 2130.7,1176.3 2136.0,1170.8 2140.8,1163.0 2144.7,1159.9 2154.8,1158.3 2159.5,1155.2 2165.7,1149.0 2173.5,1138.0 2180.5,1134.2 2186.0,1139.6 2189.0,1149.0 2191.5,1159.9 2195.4,1163.0 2202.4,1159.9 2206.3,1164.6 2212.5,1174.0 2218.0,1181.7 2228.0,1184.8 2243.7,1187.2 2260.0,1188.0 2377.0,1189.0" fill="none" stroke="#000000" stroke-width="6.2" stroke-linejoin="round"/>
<rect x="152.0" y="29.5" width="1746.5" height="7.0" fill="#000"/>
<rect x="152.0" y="29.5" width="6.0" height="1409.0" fill="#000"/>
<rect x="1892.0" y="29.5" width="6.5" height="1409.0" fill="#000"/>
<rect x="152.0" y="1432.0" width="1746.5" height="6.5" fill="#000"/>
<rect x="152.0" y="1320.5" width="1746.5" height="6.0" fill="#000"/>
<rect x="1988.0" y="25.5" width="395.0" height="6.0" fill="#000"/>
<rect x="1988.0" y="25.5" width="6.0" height="1415.0" fill="#000"/>
<rect x="2377.0" y="25.5" width="6.0" height="1415.0" fill="#000"/>
<rect x="1988.0" y="1434.5" width="395.0" height="6.0" fill="#000"/>
<rect x="1988.0" y="1324.0" width="395.0" height="4.5" fill="#000"/>
<rect x="210.0" y="1298.0" width="7.0" height="23.0" fill="#000"/>
<rect x="216.0" y="1293.0" width="8.0" height="28.0" fill="#000"/>
<rect x="482.8" y="1253.0" width="6.2" height="68.0" fill="#000"/>
<rect x="488.0" y="1253.0" width="7.2" height="68.0" fill="#000"/>
<rect x="698.4" y="1282.3" width="8.0" height="38.7" fill="#000"/>
<rect x="872.4" y="1298.3" width="5.3" height="22.7" fill="#000"/>
<rect x="886.6" y="1285.8" width="7.1" height="35.2" fill="#000"/>
<rect x="1039.7" y="1303.5" width="7.0" height="17.5" fill="#000"/>
<rect x="1050.6" y="1300.5" width="10.0" height="20.5" fill="#000"/>
<rect x="1194.0" y="1298.5" width="6.0" height="22.5" fill="#000"/>
<rect x="1203.0" y="1286.6" width="8.0" height="34.4" fill="#000"/>
<rect x="1478.0" y="1300.3" width="7.5" height="20.7" fill="#000"/>
<rect x="1486.7" y="1300.3" width="8.3" height="20.7" fill="#000"/>
<rect x="1612.7" y="1304.0" width="8.5" height="17.0" fill="#000"/>
<rect x="1622.4" y="1304.0" width="6.1" height="17.0" fill="#000"/>
<rect x="1727.9" y="1302.7" width="6.1" height="18.3" fill="#000"/>
<rect x="1751.0" y="1301.5" width="7.0" height="19.5" fill="#000"/>
<rect x="1856.4" y="1304.0" width="6.0" height="17.0" fill="#000"/>
<rect x="1873.3" y="1304.0" width="9.7" height="17.0" fill="#000"/>
<rect x="213.0" y="1398.5" width="7.0" height="33.5" fill="#000"/>
<rect x="486.4" y="1367.5" width="4.6" height="64.5" fill="#000"/>
<rect x="490.0" y="1350.6" width="5.2" height="81.4" fill="#000"/>
<rect x="696.7" y="1410.0" width="5.3" height="22.0" fill="#000"/>
<rect x="701.0" y="1400.3" width="7.2" height="31.7" fill="#000"/>
<rect x="883.0" y="1388.8" width="6.3" height="43.2" fill="#000"/>
<rect x="1047.7" y="1410.0" width="9.9" height="22.0" fill="#000"/>
<rect x="1198.0" y="1409.0" width="6.0" height="23.0" fill="#000"/>
<rect x="1203.0" y="1402.0" width="8.0" height="30.0" fill="#000"/>
<rect x="1481.8" y="1412.0" width="5.2" height="20.0" fill="#000"/>
<rect x="1486.0" y="1405.8" width="6.7" height="26.2" fill="#000"/>
<rect x="1611.5" y="1415.5" width="12.1" height="16.5" fill="#000"/>
<rect x="1743.6" y="1410.6" width="8.4" height="21.4" fill="#000"/>
<rect x="1868.5" y="1415.5" width="10.9" height="16.5" fill="#000"/>
<rect x="2059.5" y="1301.0" width="6.5" height="23.5" fill="#000"/>
<rect x="2159.5" y="1288.0" width="6.5" height="36.5" fill="#000"/>
<rect x="2145.8" y="1393.6" width="5.5" height="41.4" fill="#000"/>
<path d="M222.2,238.4 L234.7,254.4 L222.2,270.4 L209.7,254.4 Z" fill="#000"/>
<path d="M708.0,225.4 L720.5,241.4 L708.0,257.4 L695.5,241.4 Z" fill="#000"/>
<path d="M889.7,207.2 L902.2,223.2 L889.7,239.2 L877.2,223.2 Z" fill="#000"/>
<path d="M1053.9,253.0 L1066.4,269.0 L1053.9,285.0 L1041.4,269.0 Z" fill="#000"/>
<path d="M1208.4,207.5 L1220.9,223.5 L1208.4,239.5 L1195.9,223.5 Z" fill="#000"/>
<path d="M1489.0,237.9 L1501.5,253.9 L1489.0,269.9 L1476.5,253.9 Z" fill="#000"/>
<path d="M1748.0,247.5 L1760.5,263.5 L1748.0,279.5 L1735.5,263.5 Z" fill="#000"/>
<path d="M1875.0,259.5 L1887.5,275.5 L1875.0,291.5 L1862.5,275.5 Z" fill="#000"/>
<path d="M492.6,85.7 L504.9,100.7 L492.6,115.7 L480.3,100.7 Z" fill="#000"/>
<circle cx="348.7" cy="266.9" r="10" fill="#000"/>
<path d="M1698.7,56.4 L1712.4,73.6 L1698.7,90.8 L1685.0,73.6 Z" fill="#000"/>
<circle cx="1702" cy="146.5" r="11.5" fill="#000"/>
<text x="1722.6" y="90.8" font-family="'Liberation Serif','Times New Roman',serif" font-size="62.0" font-weight="bold" font-style="normal" fill="#000" text-anchor="start" textLength="162" lengthAdjust="spacingAndGlyphs">BCZT</text>
<text x="1745.5" y="163.6" font-family="'Liberation Serif','Times New Roman',serif" font-size="61.0" font-weight="bold" font-style="normal" fill="#000" text-anchor="start">GO</text>
<text transform="translate(159.7,124.5) scale(1.173,1)" font-family="'Noto Serif CJK SC',serif" font-size="81.0">（</text>
<text transform="translate(317.3,125.0) scale(1.253,1)" font-family="'Noto Serif CJK SC',serif" font-size="81.5">）</text>
<text transform="translate(264.7,129) scale(0.943,1)" font-family="'Liberation Serif','Times New Roman',serif" font-size="97.9" font-weight="bold">a</text>
<text transform="translate(1983.7,122.5) scale(1.309,1)" font-family="'Noto Serif CJK SC',serif" font-size="79.1">（</text>
<text transform="translate(2155.2,122.7) scale(1.350,1)" font-family="'Noto Serif CJK SC',serif" font-size="79.3">）</text>
<text transform="translate(2095.5,126.8) scale(1.05,1)" font-family="'Liberation Serif','Times New Roman',serif" font-size="94.2" font-weight="bold">b</text>
<text transform="translate(1453.8,231.5) scale(1.177,1)" font-family="'Liberation Serif','Times New Roman',serif" font-size="65.5" font-weight="bold" font-style="italic" fill="#F6860C">x</text>
<text transform="translate(1503.6,231.5) scale(1.169,1)" font-family="'Liberation Serif','Times New Roman',serif" font-size="66.0" font-weight="bold" fill="#F6860C">=</text>
<text x="1560.3" y="231.5" font-family="'Liberation Serif','Times New Roman',serif" font-size="67.5" font-weight="bold" font-style="normal" fill="#F6860C" text-anchor="start" textLength="272.7" lengthAdjust="spacingAndGlyphs">0.5 mol%</text>
<text transform="translate(1454.7,475.5) scale(1.177,1)" font-family="'Liberation Serif','Times New Roman',serif" font-size="65.5" font-weight="bold" font-style="italic" fill="#EA0A14">x</text>
<text transform="translate(1504.5,475.5) scale(1.169,1)" font-family="'Liberation Serif','Times New Roman',serif" font-size="66.0" font-weight="bold" fill="#EA0A14">=</text>
<text x="1561.2" y="475.5" font-family="'Liberation Serif','Times New Roman',serif" font-size="67.5" font-weight="bold" font-style="normal" fill="#EA0A14" text-anchor="start" textLength="272.4" lengthAdjust="spacingAndGlyphs">0.4 mol%</text>
<text transform="translate(1454.7,673.4) scale(1.177,1)" font-family="'Liberation Serif','Times New Roman',serif" font-size="65.5" font-weight="bold" font-style="italic" fill="#0000C8">x</text>
<text transform="translate(1504.5,673.4) scale(1.169,1)" font-family="'Liberation Serif','Times New Roman',serif" font-size="66.0" font-weight="bold" fill="#0000C8">=</text>
<text x="1561.2" y="673.4" font-family="'Liberation Serif','Times New Roman',serif" font-size="67.5" font-weight="bold" font-style="normal" fill="#0000C8" text-anchor="start" textLength="273.5" lengthAdjust="spacingAndGlyphs">0.3 mol%</text>
<text transform="translate(1450.8,920.0) scale(1.177,1)" font-family="'Liberation Serif','Times New Roman',serif" font-size="65.5" font-weight="bold" font-style="italic" fill="#0091D2">x</text>
<text transform="translate(1500.6,920.0) scale(1.169,1)" font-family="'Liberation Serif','Times New Roman',serif" font-size="66.0" font-weight="bold" fill="#0091D2">=</text>
<text x="1557.3" y="920.0" font-family="'Liberation Serif','Times New Roman',serif" font-size="67.5" font-weight="bold" font-style="normal" fill="#0091D2" text-anchor="start" textLength="272.0" lengthAdjust="spacingAndGlyphs">0.2 mol%</text>
<text transform="translate(1454.7,1115.6) scale(1.177,1)" font-family="'Liberation Serif','Times New Roman',serif" font-size="65.5" font-weight="bold" font-style="italic" fill="#000000">x</text>
<text transform="translate(1504.5,1115.6) scale(1.169,1)" font-family="'Liberation Serif','Times New Roman',serif" font-size="66.0" font-weight="bold" fill="#000000">=</text>
<text x="1561.2" y="1115.6" font-family="'Liberation Serif','Times New Roman',serif" font-size="67.5" font-weight="bold" font-style="normal" fill="#000000" text-anchor="start" textLength="222.7" lengthAdjust="spacingAndGlyphs">0 mol%</text>
<text transform="translate(2000.2,225.0) scale(1.177,1)" font-family="'Liberation Serif','Times New Roman',serif" font-size="65.5" font-weight="bold" font-style="italic" fill="#F6860C">x</text>
<text transform="translate(2050.0,225.0) scale(1.169,1)" font-family="'Liberation Serif','Times New Roman',serif" font-size="66.0" font-weight="bold" fill="#F6860C">=</text>
<text x="2106.7" y="225.0" font-family="'Liberation Serif','Times New Roman',serif" font-size="67.5" font-weight="bold" font-style="normal" fill="#F6860C" text-anchor="start" textLength="274.0" lengthAdjust="spacingAndGlyphs">0.5 mol%</text>
<text transform="translate(1999.3,464.0) scale(1.177,1)" font-family="'Liberation Serif','Times New Roman',serif" font-size="65.5" font-weight="bold" font-style="italic" fill="#EA0A14">x</text>
<text transform="translate(2049.1,464.0) scale(1.169,1)" font-family="'Liberation Serif','Times New Roman',serif" font-size="66.0" font-weight="bold" fill="#EA0A14">=</text>
<text x="2105.8" y="464.0" font-family="'Liberation Serif','Times New Roman',serif" font-size="67.5" font-weight="bold" font-style="normal" fill="#EA0A14" text-anchor="start" textLength="272.5" lengthAdjust="spacingAndGlyphs">0.4 mol%</text>
<text transform="translate(2001.7,663.5) scale(1.177,1)" font-family="'Liberation Serif','Times New Roman',serif" font-size="65.5" font-weight="bold" font-style="italic" fill="#0000C8">x</text>
<text transform="translate(2051.5,663.5) scale(1.169,1)" font-family="'Liberation Serif','Times New Roman',serif" font-size="66.0" font-weight="bold" fill="#0000C8">=</text>
<text x="2108.2" y="663.5" font-family="'Liberation Serif','Times New Roman',serif" font-size="67.5" font-weight="bold" font-style="normal" fill="#0000C8" text-anchor="start" textLength="272.4" lengthAdjust="spacingAndGlyphs">0.3 mol%</text>
<text transform="translate(1999.4,904.8) scale(1.177,1)" font-family="'Liberation Serif','Times New Roman',serif" font-size="65.5" font-weight="bold" font-style="italic" fill="#0091D2">x</text>
<text transform="translate(2049.2,904.8) scale(1.169,1)" font-family="'Liberation Serif','Times New Roman',serif" font-size="66.0" font-weight="bold" fill="#0091D2">=</text>
<text x="2105.9" y="904.8" font-family="'Liberation Serif','Times New Roman',serif" font-size="67.5" font-weight="bold" font-style="normal" fill="#0091D2" text-anchor="start" textLength="272.1" lengthAdjust="spacingAndGlyphs">0.2 mol%</text>
<text transform="translate(2004.8,1117.4) scale(1.177,1)" font-family="'Liberation Serif','Times New Roman',serif" font-size="65.5" font-weight="bold" font-style="italic" fill="#000000">x</text>
<text transform="translate(2054.6,1117.4) scale(1.169,1)" font-family="'Liberation Serif','Times New Roman',serif" font-size="66.0" font-weight="bold" fill="#000000">=</text>
<text x="2111.3" y="1117.4" font-family="'Liberation Serif','Times New Roman',serif" font-size="67.5" font-weight="bold" font-style="normal" fill="#000000" text-anchor="start" textLength="222.3" lengthAdjust="spacingAndGlyphs">0 mol%</text>
<text x="154.0" y="1518.4" font-family="'Liberation Serif','Times New Roman',serif" font-size="61.0" font-weight="bold" font-style="normal" fill="#000" text-anchor="middle">20</text>
<text x="443.8" y="1518.4" font-family="'Liberation Serif','Times New Roman',serif" font-size="61.0" font-weight="bold" font-style="normal" fill="#000" text-anchor="middle">30</text>
<text x="734.0" y="1518.4" font-family="'Liberation Serif','Times New Roman',serif" font-size="61.0" font-weight="bold" font-style="normal" fill="#000" text-anchor="middle">40</text>
<text x="1025.0" y="1518.4" font-family="'Liberation Serif','Times New Roman',serif" font-size="61.0" font-weight="bold" font-style="normal" fill="#000" text-anchor="middle">50</text>
<text x="1314.8" y="1518.4" font-family="'Liberation Serif','Times New Roman',serif" font-size="61.0" font-weight="bold" font-style="normal" fill="#000" text-anchor="middle">60</text>
<text x="1605.7" y="1518.4" font-family="'Liberation Serif','Times New Roman',serif" font-size="61.0" font-weight="bold" font-style="normal" fill="#000" text-anchor="middle">70</text>
<text x="1894.3" y="1518.4" font-family="'Liberation Serif','Times New Roman',serif" font-size="61.0" font-weight="bold" font-style="normal" fill="#000" text-anchor="middle">80</text>
<text x="2101.7" y="1512.0" font-family="'Liberation Serif','Times New Roman',serif" font-size="61.0" font-weight="bold" font-style="normal" fill="#000" text-anchor="middle">45</text>
<text x="2294.0" y="1512.0" font-family="'Liberation Serif','Times New Roman',serif" font-size="61.0" font-weight="bold" font-style="normal" fill="#000" text-anchor="middle">46</text>
<text x="955.0" y="1622.7" font-family="'Liberation Serif','Times New Roman',serif" font-size="86.0" font-weight="bold" font-style="normal" fill="#000" text-anchor="start" textLength="392" lengthAdjust="spacingAndGlyphs">2θ<tspan font-weight="normal">(</tspan>degree<tspan font-weight="normal">)</tspan></text>
<text transform="translate(91.4,988) rotate(-90)" font-family="'Liberation Serif','Times New Roman',serif" font-size="86" font-weight="bold" textLength="513" lengthAdjust="spacingAndGlyphs">Intensity<tspan font-weight="normal">(</tspan>a.u.<tspan font-weight="normal">)</tspan></text>
<text x="1352.3" y="1283.3" font-family="'Liberation Serif','Times New Roman',serif" font-size="53.0" font-weight="bold" font-style="normal" fill="#000" text-anchor="start" textLength="537" lengthAdjust="spacingAndGlyphs">PDF#81- 2200<tspan font-weight="normal">(O</tspan> Phase<tspan font-weight="normal">)</tspan></text>
<text x="1343.8" y="1396.0" font-family="'Liberation Serif','Times New Roman',serif" font-size="53.0" font-weight="bold" font-style="normal" fill="#000" text-anchor="start" textLength="547" lengthAdjust="spacingAndGlyphs">PDF#05 - 0626<tspan font-weight="normal">(</tspan>T Phase<tspan font-weight="normal">)</tspan></text>
<text transform="translate(197.3,1319.0) rotate(-90)" font-family="'Liberation Serif','Times New Roman',serif" font-size="47" font-weight="bold"><tspan font-weight="normal">(</tspan>011<tspan font-weight="normal">)</tspan></text>
<text transform="translate(265.5,1319.0) rotate(-90)" font-family="'Liberation Serif','Times New Roman',serif" font-size="47" font-weight="bold"><tspan font-weight="normal">(</tspan>100<tspan font-weight="normal">)</tspan></text>
<text transform="translate(470.5,1320.0) rotate(-90)" font-family="'Liberation Serif','Times New Roman',serif" font-size="47" font-weight="bold"><tspan font-weight="normal">(</tspan>002<tspan font-weight="normal">)</tspan></text>
<text transform="translate(530.1,1320.0) rotate(-90)" font-family="'Liberation Serif','Times New Roman',serif" font-size="47" font-weight="bold"><tspan font-weight="normal">(</tspan>111<tspan font-weight="normal">)</tspan></text>
<text transform="translate(687.2,1319.0) rotate(-90)" font-family="'Liberation Serif','Times New Roman',serif" font-size="47" font-weight="bold"><tspan font-weight="normal">(</tspan>102<tspan font-weight="normal">)</tspan></text>
<text transform="translate(751.1,1319.0) rotate(-90)" font-family="'Liberation Serif','Times New Roman',serif" font-size="47" font-weight="bold"><tspan font-weight="normal">(</tspan>120<tspan font-weight="normal">)</tspan></text>
<text transform="translate(856.7,1316.2) rotate(-90)" font-family="'Liberation Serif','Times New Roman',serif" font-size="47" font-weight="bold"><tspan font-weight="normal">(</tspan>022<tspan font-weight="normal">)</tspan></text>
<text transform="translate(947.2,1316.2) rotate(-90)" font-family="'Liberation Serif','Times New Roman',serif" font-size="47" font-weight="bold"><tspan font-weight="normal">(</tspan>200<tspan font-weight="normal">)</tspan></text>
<text transform="translate(202.5,1430.7) rotate(-90)" font-family="'Liberation Serif','Times New Roman',serif" font-size="47" font-weight="bold"><tspan font-weight="normal">(</tspan>001<tspan font-weight="normal">)</tspan></text>
<text transform="translate(262.1,1431.6) rotate(-90)" font-family="'Liberation Serif','Times New Roman',serif" font-size="47" font-weight="bold"><tspan font-weight="normal">(</tspan>100<tspan font-weight="normal">)</tspan></text>
<text transform="translate(472.5,1431.6) rotate(-90)" font-family="'Liberation Serif','Times New Roman',serif" font-size="47" font-weight="bold"><tspan font-weight="normal">(</tspan>101<tspan font-weight="normal">)</tspan></text>
<text transform="translate(532.8,1431.6) rotate(-90)" font-family="'Liberation Serif','Times New Roman',serif" font-size="47" font-weight="bold"><tspan font-weight="normal">(</tspan>110<tspan font-weight="normal">)</tspan></text>
<text transform="translate(747.5,1430.7) rotate(-90)" font-family="'Liberation Serif','Times New Roman',serif" font-size="47" font-weight="bold"><tspan font-weight="normal">(</tspan>111<tspan font-weight="normal">)</tspan></text>
<text transform="translate(865.5,1430.7) rotate(-90)" font-family="'Liberation Serif','Times New Roman',serif" font-size="47" font-weight="bold"><tspan font-weight="normal">(</tspan>002<tspan font-weight="normal">)</tspan></text>
<text transform="translate(931.2,1430.0) rotate(-90)" font-family="'Liberation Serif','Times New Roman',serif" font-size="47" font-weight="bold"><tspan font-weight="normal">(</tspan>200<tspan font-weight="normal">)</tspan></text>
<text transform="translate(2050.2,1322.0) rotate(-90)" font-family="'Liberation Serif','Times New Roman',serif" font-size="47" font-weight="bold"><tspan font-weight="normal">(</tspan>022<tspan font-weight="normal">)</tspan></text>
<text transform="translate(2201.3,1321.0) rotate(-90)" font-family="'Liberation Serif','Times New Roman',serif" font-size="47" font-weight="bold"><tspan font-weight="normal">(</tspan>200<tspan font-weight="normal">)</tspan></text>
<text transform="translate(2126.2,1435.5) rotate(-90)" font-family="'Liberation Serif','Times New Roman',serif" font-size="47" font-weight="bold"><tspan font-weight="normal">(</tspan>002<tspan font-weight="normal">)</tspan></text>
<text transform="translate(2190.5,1435.5) rotate(-90)" font-family="'Liberation Serif','Times New Roman',serif" font-size="47" font-weight="bold"><tspan font-weight="normal">(</tspan>200<tspan font-weight="normal">)</tspan></text>
</svg>
</body></html>
